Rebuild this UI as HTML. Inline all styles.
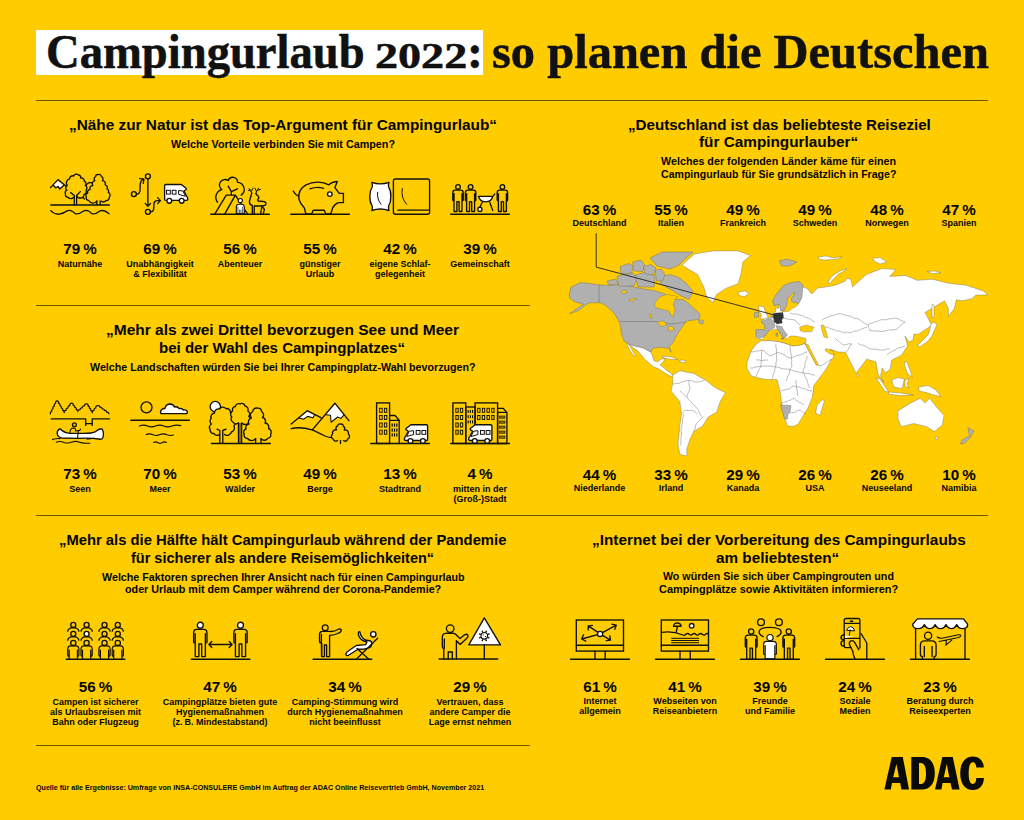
<!DOCTYPE html>
<html><head><meta charset="utf-8"><style>
html,body{margin:0;padding:0;}
body{width:1024px;height:820px;overflow:hidden;background:#FFCC00;position:relative;font-family:"Liberation Sans", sans-serif;color:#111;}
.t{position:absolute;text-align:center;font-weight:bold;white-space:nowrap;color:#050505;}
.ln{position:absolute;height:1px;background:#6b5700;}
#title{position:absolute;left:36px;top:30px;width:447px;height:45px;background:#fff;}
.tt{position:absolute;font-family:"Liberation Serif", serif;font-weight:bold;font-size:48px;line-height:48px;white-space:nowrap;color:#111;-webkit-text-stroke:0.5px #111;}
svg{position:absolute;left:0;top:0;}
#adac{position:absolute;left:884px;top:0px;font-family:"Liberation Sans", sans-serif;font-weight:bold;font-size:48px;line-height:48px;color:#111;transform-origin:0 0;}
</style></head><body>
<div id="title"></div>
<div class="tt" style="left:46px;top:28.00px;transform:scaleX(0.9713);transform-origin:0 0">Campingurlaub</div>
<div class="tt" style="left:375.3px;top:38.05px;font-size:36px;line-height:36px;transform:scaleX(1.2806);transform-origin:0 0">2022</div>
<div class="tt" style="left:467px;top:28.00px">:</div>
<div class="tt" style="left:492px;top:28.00px;transform:scaleX(1.0100);transform-origin:0 0">so planen die Deutschen</div>
<div class="t" style="left:20.00px;top:241.23px;width:120px;font-size:15.2px;line-height:16px;">79 %</div><div class="t" style="left:20.00px;top:258.68px;width:120px;font-size:9.0px;line-height:10.0px;">Naturnähe</div><div class="t" style="left:100.00px;top:241.23px;width:120px;font-size:15.2px;line-height:16px;">69 %</div><div class="t" style="left:100.00px;top:258.68px;width:120px;font-size:9.0px;line-height:10.0px;">Unabhängigkeit<br>&amp; Flexibilität</div><div class="t" style="left:180.00px;top:241.23px;width:120px;font-size:15.2px;line-height:16px;">56 %</div><div class="t" style="left:180.00px;top:258.68px;width:120px;font-size:9.0px;line-height:10.0px;">Abenteuer</div><div class="t" style="left:260.00px;top:241.23px;width:120px;font-size:15.2px;line-height:16px;">55 %</div><div class="t" style="left:260.00px;top:258.68px;width:120px;font-size:9.0px;line-height:10.0px;">günstiger<br>Urlaub</div><div class="t" style="left:340.00px;top:241.23px;width:120px;font-size:15.2px;line-height:16px;">42 %</div><div class="t" style="left:340.00px;top:258.68px;width:120px;font-size:9.0px;line-height:10.0px;">eigene Schlaf-<br>gelegenheit</div><div class="t" style="left:420.00px;top:241.23px;width:120px;font-size:15.2px;line-height:16px;">39 %</div><div class="t" style="left:420.00px;top:258.68px;width:120px;font-size:9.0px;line-height:10.0px;">Gemeinschaft</div><div class="t" style="left:20.00px;top:466.23px;width:120px;font-size:15.2px;line-height:16px;">73 %</div><div class="t" style="left:20.00px;top:483.58px;width:120px;font-size:9.0px;line-height:10.0px;">Seen</div><div class="t" style="left:100.00px;top:466.23px;width:120px;font-size:15.2px;line-height:16px;">70 %</div><div class="t" style="left:100.00px;top:483.58px;width:120px;font-size:9.0px;line-height:10.0px;">Meer</div><div class="t" style="left:180.00px;top:466.23px;width:120px;font-size:15.2px;line-height:16px;">53 %</div><div class="t" style="left:180.00px;top:483.58px;width:120px;font-size:9.0px;line-height:10.0px;">Wälder</div><div class="t" style="left:260.00px;top:466.23px;width:120px;font-size:15.2px;line-height:16px;">49 %</div><div class="t" style="left:260.00px;top:483.58px;width:120px;font-size:9.0px;line-height:10.0px;">Berge</div><div class="t" style="left:340.00px;top:466.23px;width:120px;font-size:15.2px;line-height:16px;">13 %</div><div class="t" style="left:340.00px;top:483.58px;width:120px;font-size:9.0px;line-height:10.0px;">Stadtrand</div><div class="t" style="left:420.00px;top:466.23px;width:120px;font-size:15.2px;line-height:16px;">4 %</div><div class="t" style="left:420.00px;top:483.58px;width:120px;font-size:9.0px;line-height:10.0px;">mitten in der<br>(Groß-)Stadt</div><div class="t" style="left:15.50px;top:679.33px;width:160px;font-size:15.2px;line-height:16px;">56 %</div><div class="t" style="left:15.50px;top:696.68px;width:160px;font-size:9.0px;line-height:10.0px;">Campen ist sicherer<br>als Urlaubsreisen mit<br>Bahn oder Flugzeug</div><div class="t" style="left:140.00px;top:679.33px;width:160px;font-size:15.2px;line-height:16px;">47 %</div><div class="t" style="left:140.00px;top:696.68px;width:160px;font-size:9.0px;line-height:10.0px;">Campingplätze bieten gute<br>Hygienemaßnahmen<br>(z. B. Mindestabstand)</div><div class="t" style="left:265.00px;top:679.33px;width:160px;font-size:15.2px;line-height:16px;">34 %</div><div class="t" style="left:265.00px;top:696.68px;width:160px;font-size:9.0px;line-height:10.0px;">Camping-Stimmung wird<br>durch Hygienemaßnahmen<br>nicht beeinflusst</div><div class="t" style="left:390.00px;top:679.33px;width:160px;font-size:15.2px;line-height:16px;">29 %</div><div class="t" style="left:390.00px;top:696.68px;width:160px;font-size:9.0px;line-height:10.0px;">Vertrauen, dass<br>andere Camper die<br>Lage ernst nehmen</div><div class="t" style="left:549.50px;top:201.53px;width:100px;font-size:15.2px;line-height:16px;">63 %</div><div class="t" style="left:549.50px;top:218.48px;width:100px;font-size:9.0px;line-height:10.0px;">Deutschland</div><div class="t" style="left:621.00px;top:201.53px;width:100px;font-size:15.2px;line-height:16px;">55 %</div><div class="t" style="left:621.00px;top:218.48px;width:100px;font-size:9.0px;line-height:10.0px;">Italien</div><div class="t" style="left:693.00px;top:201.53px;width:100px;font-size:15.2px;line-height:16px;">49 %</div><div class="t" style="left:693.00px;top:218.48px;width:100px;font-size:9.0px;line-height:10.0px;">Frankreich</div><div class="t" style="left:765.00px;top:201.53px;width:100px;font-size:15.2px;line-height:16px;">49 %</div><div class="t" style="left:765.00px;top:218.48px;width:100px;font-size:9.0px;line-height:10.0px;">Schweden</div><div class="t" style="left:837.00px;top:201.53px;width:100px;font-size:15.2px;line-height:16px;">48 %</div><div class="t" style="left:837.00px;top:218.48px;width:100px;font-size:9.0px;line-height:10.0px;">Norwegen</div><div class="t" style="left:909.00px;top:201.53px;width:100px;font-size:15.2px;line-height:16px;">47 %</div><div class="t" style="left:909.00px;top:218.48px;width:100px;font-size:9.0px;line-height:10.0px;">Spanien</div><div class="t" style="left:549.50px;top:466.53px;width:100px;font-size:15.2px;line-height:16px;">44 %</div><div class="t" style="left:549.50px;top:483.48px;width:100px;font-size:9.0px;line-height:10.0px;">Niederlande</div><div class="t" style="left:621.00px;top:466.53px;width:100px;font-size:15.2px;line-height:16px;">33 %</div><div class="t" style="left:621.00px;top:483.48px;width:100px;font-size:9.0px;line-height:10.0px;">Irland</div><div class="t" style="left:693.00px;top:466.53px;width:100px;font-size:15.2px;line-height:16px;">29 %</div><div class="t" style="left:693.00px;top:483.48px;width:100px;font-size:9.0px;line-height:10.0px;">Kanada</div><div class="t" style="left:765.00px;top:466.53px;width:100px;font-size:15.2px;line-height:16px;">26 %</div><div class="t" style="left:765.00px;top:483.48px;width:100px;font-size:9.0px;line-height:10.0px;">USA</div><div class="t" style="left:837.00px;top:466.53px;width:100px;font-size:15.2px;line-height:16px;">26 %</div><div class="t" style="left:837.00px;top:483.48px;width:100px;font-size:9.0px;line-height:10.0px;">Neuseeland</div><div class="t" style="left:909.00px;top:466.53px;width:100px;font-size:15.2px;line-height:16px;">10 %</div><div class="t" style="left:909.00px;top:483.48px;width:100px;font-size:9.0px;line-height:10.0px;">Namibia</div><div class="t" style="left:540.00px;top:679.33px;width:120px;font-size:15.2px;line-height:16px;">61 %</div><div class="t" style="left:540.00px;top:697.08px;width:120px;font-size:9.0px;line-height:9.6px;">Internet<br>allgemein</div><div class="t" style="left:625.00px;top:679.33px;width:120px;font-size:15.2px;line-height:16px;">41 %</div><div class="t" style="left:625.00px;top:697.08px;width:120px;font-size:9.0px;line-height:9.6px;">Webseiten von<br>Reiseanbietern</div><div class="t" style="left:710.00px;top:679.33px;width:120px;font-size:15.2px;line-height:16px;">39 %</div><div class="t" style="left:710.00px;top:697.08px;width:120px;font-size:9.0px;line-height:9.6px;">Freunde<br>und Familie</div><div class="t" style="left:795.00px;top:679.33px;width:120px;font-size:15.2px;line-height:16px;">24 %</div><div class="t" style="left:795.00px;top:697.08px;width:120px;font-size:9.0px;line-height:9.6px;">Soziale<br>Medien</div><div class="t" style="left:880.00px;top:679.33px;width:120px;font-size:15.2px;line-height:16px;">23 %</div><div class="t" style="left:880.00px;top:697.08px;width:120px;font-size:9.0px;line-height:9.6px;">Beratung durch<br>Reiseexperten</div><div class="ln" style="left:36px;top:99.5px;width:952px"></div><div class="ln" style="left:36px;top:304.5px;width:494px"></div><div class="ln" style="left:36px;top:514.5px;width:952px"></div><div class="ln" style="left:36px;top:744.5px;width:494px"></div><div class="t" style="left:69.00px;top:116.55px;text-align:left;font-size:15.3px;line-height:15.3px;transform:scaleX(1.0038);transform-origin:0 0">„Nähe zur Natur ist das Top-Argument für Campingurlaub“</div><div class="t" style="left:171.00px;top:138.90px;text-align:left;font-size:10.75px;line-height:10.75px;transform:scaleX(1.0017);transform-origin:0 0">Welche Vorteile verbinden Sie mit Campen?</div><div class="t" style="left:106.40px;top:321.95px;text-align:left;font-size:15.3px;line-height:15.3px;transform:scaleX(1.0126);transform-origin:0 0">„Mehr als zwei Drittel bevorzugen See und Meer</div><div class="t" style="left:159.00px;top:339.55px;text-align:left;font-size:15.3px;line-height:15.3px;transform:scaleX(0.9833);transform-origin:0 0">bei der Wahl des Campingplatzes“</div><div class="t" style="left:89.80px;top:361.60px;text-align:left;font-size:10.75px;line-height:10.75px;transform:scaleX(0.9929);transform-origin:0 0">Welche Landschaften würden Sie bei Ihrer Campingplatz-Wahl bevorzugen?</div><div class="t" style="left:59.40px;top:531.95px;text-align:left;font-size:15.3px;line-height:15.3px;transform:scaleX(0.9675);transform-origin:0 0">„Mehr als die Hälfte hält Campingurlaub während der Pandemie</div><div class="t" style="left:130.90px;top:549.55px;text-align:left;font-size:15.3px;line-height:15.3px;transform:scaleX(0.9482);transform-origin:0 0">für sicherer als andere Reisemöglichkeiten“</div><div class="t" style="left:102.00px;top:571.70px;text-align:left;font-size:10.75px;line-height:10.75px;transform:scaleX(0.9967);transform-origin:0 0">Welche Faktoren sprechen Ihrer Ansicht nach für einen Campingurlaub</div><div class="t" style="left:125.00px;top:583.90px;text-align:left;font-size:10.75px;line-height:10.75px;transform:scaleX(1.0006);transform-origin:0 0">oder Urlaub mit dem Camper während der Corona-Pandemie?</div><div class="t" style="left:627.60px;top:116.55px;text-align:left;font-size:15.3px;line-height:15.3px;transform:scaleX(0.9894);transform-origin:0 0">„Deutschland ist das beliebteste Reiseziel</div><div class="t" style="left:698.90px;top:134.15px;text-align:left;font-size:15.3px;line-height:15.3px;transform:scaleX(1.0017);transform-origin:0 0">für Campingurlauber“</div><div class="t" style="left:661.20px;top:156.00px;text-align:left;font-size:10.75px;line-height:10.75px;transform:scaleX(0.9993);transform-origin:0 0">Welches der folgenden Länder käme für einen</div><div class="t" style="left:661.20px;top:169.30px;text-align:left;font-size:10.75px;line-height:10.75px;transform:scaleX(0.9828);transform-origin:0 0">Campingurlaub für Sie grundsätzlich in Frage?</div><div class="t" style="left:591.80px;top:531.85px;text-align:left;font-size:15.3px;line-height:15.3px;transform:scaleX(1.0046);transform-origin:0 0">„Internet bei der Vorbereitung des Campingurlaubs</div><div class="t" style="left:716.40px;top:549.65px;text-align:left;font-size:15.3px;line-height:15.3px;transform:scaleX(0.9995);transform-origin:0 0">am beliebtesten“</div><div class="t" style="left:663.40px;top:571.30px;text-align:left;font-size:10.75px;line-height:10.75px;transform:scaleX(0.9921);transform-origin:0 0">Wo würden Sie sich über Campingrouten und</div><div class="t" style="left:659.00px;top:584.20px;text-align:left;font-size:10.75px;line-height:10.75px;transform:scaleX(1.0155);transform-origin:0 0">Campingplätze sowie Aktivitäten informieren?</div><div class="t" style="left:36.10px;top:783.91px;text-align:left;font-size:7.2px;line-height:7.2px;transform:scaleX(0.9898);transform-origin:0 0">Quelle für alle Ergebnisse: Umfrage von INSA-CONSULERE GmbH im Auftrag der ADAC Online Reisevertrieb GmbH, November 2021</div>
<svg width="1024" height="820" viewBox="0 0 1024 820"><path d="M 569.4 293.4 L 570.9 287.2 L 580.3 282.5 L 590.0 283.5 L 599.0 284.8 L 610.0 285.6 L 619.4 284.6 L 628.8 286.0 L 641.3 288.5 L 653.8 290.5 L 662.0 293.0 L 670.0 296.0 L 674.1 299.5 L 682.9 299.5 L 688.8 303.4 L 694.6 309.3 L 698.5 312.2 L 700.5 316.1 L 698.5 319.0 L 694.6 320.0 L 686.8 321.0 L 682.9 325.9 L 677.1 334.6 L 673.2 342.4 L 669.3 346.3 L 671.2 352.2 L 668.3 348.3 L 659.5 347.3 L 652.7 348.3 L 650.7 352.2 L 646.0 349.5 L 642.8 348.1 L 630.3 345.0 L 624.0 341.0 L 621.5 334.0 L 620.0 324.0 L 616.0 316.0 L 612.0 311.0 L 605.0 305.0 L 600.6 302.8 L 589.7 302.8 L 584.0 306.0 L 578.8 310.6 L 569.4 313.8 L 577.0 308.5 L 583.4 304.4 L 574.0 301.3 L 569.4 298.0 Z" fill="#b0b0b0" stroke="#5a5a5a" stroke-width="0.35" stroke-linejoin="round"/><path d="M 654.6 303.4 L 659.5 297.1 L 666.3 294.6 L 674.1 295.6 L 678.0 297.0 L 675.1 299.5 L 673.2 304.4 L 675.1 309.3 L 673.2 317.1 L 670.2 314.1 L 669.3 311.2 L 657.6 308.3 L 654.6 306.3 Z" fill="#FFCC00" stroke="#5a5a5a" stroke-width="0.3" stroke-linejoin="round"/><path d="M 698.5 319.5 L 703.4 320.5 L 703.0 324.0 L 699.0 323.5 Z" fill="#b0b0b0" stroke="#5a5a5a" stroke-width="0.35" stroke-linejoin="round"/><path d="M 660.0 283.5 L 663.0 276.0 L 670.0 274.5 L 678.0 277.0 L 686.0 283.0 L 693.0 291.0 L 689.0 299.5 L 681.0 296.0 L 674.0 291.5 Z" fill="#b0b0b0" stroke="#5a5a5a" stroke-width="0.35" stroke-linejoin="round"/><path d="M 650.0 258.0 L 662.0 252.0 L 693.0 252.0 L 686.0 258.0 L 679.0 265.0 L 670.0 269.0 L 657.0 266.0 Z" fill="#b0b0b0" stroke="#5a5a5a" stroke-width="0.35" stroke-linejoin="round"/><path d="M 617.0 276.0 L 633.0 273.0 L 637.0 279.0 L 634.0 286.0 L 619.0 286.0 Z" fill="#b0b0b0" stroke="#5a5a5a" stroke-width="0.35" stroke-linejoin="round"/><path d="M 635.0 275.0 L 646.0 272.0 L 655.0 276.0 L 654.0 287.0 L 638.0 287.0 Z" fill="#b0b0b0" stroke="#5a5a5a" stroke-width="0.35" stroke-linejoin="round"/><path d="M 620.0 266.5 L 629.0 263.5 L 633.0 266.0 L 632.0 273.0 L 621.0 274.0 Z" fill="#b0b0b0" stroke="#5a5a5a" stroke-width="0.35" stroke-linejoin="round"/><path d="M 632.5 262.0 L 641.0 260.0 L 645.0 265.0 L 643.0 271.5 L 634.0 271.0 Z" fill="#b0b0b0" stroke="#5a5a5a" stroke-width="0.35" stroke-linejoin="round"/><path d="M 643.5 266.5 L 651.0 264.5 L 656.0 268.0 L 653.5 275.0 L 645.5 274.0 Z" fill="#b0b0b0" stroke="#5a5a5a" stroke-width="0.35" stroke-linejoin="round"/><path d="M 655.0 270.5 L 661.0 269.0 L 665.0 274.0 L 662.5 281.0 L 656.5 281.0 Z" fill="#b0b0b0" stroke="#5a5a5a" stroke-width="0.35" stroke-linejoin="round"/><path d="M 607.0 281.0 L 616.0 279.0 L 618.0 284.0 L 609.0 285.0 Z" fill="#b0b0b0" stroke="#5a5a5a" stroke-width="0.35" stroke-linejoin="round"/><path d="M 681.9 265.0 L 694.4 254.0 L 713.1 250.9 L 738.1 250.9 L 750.6 255.6 L 742.8 261.9 L 741.3 272.8 L 738.1 283.8 L 725.6 288.4 L 716.3 294.7 L 713.1 302.5 L 706.9 297.8 L 703.8 286.9 L 697.5 274.4 L 686.6 268.1 Z" fill="#ffffff" stroke="#5a5a5a" stroke-width="0.35" stroke-linejoin="round"/><path d="M 738.5 292.0 L 745.0 291.0 L 749.0 293.5 L 744.5 296.5 L 739.0 295.5 Z" fill="#ffffff" stroke="#5a5a5a" stroke-width="0.35" stroke-linejoin="round"/><path d="M 628.8 345.0 L 630.3 345.0 L 642.8 348.1 L 646.0 349.5 L 650.7 352.2 L 652.2 355.0 L 653.8 360.6 L 657.0 362.0 L 661.6 359.0 L 664.5 358.2 L 663.6 362.0 L 660.0 364.6 L 666.3 370.0 L 670.0 372.5 L 672.7 375.2 L 671.0 376.5 L 665.0 373.0 L 658.0 368.5 L 653.8 366.9 L 644.4 359.0 L 638.0 351.0 L 633.0 347.5 Z" fill="#ffffff" stroke="#5a5a5a" stroke-width="0.35" stroke-linejoin="round"/><path d="M 627.0 343.5 L 629.0 344.5 L 632.0 350.0 L 635.8 355.8 L 634.0 356.0 L 629.0 349.0 Z" fill="#ffffff" stroke="#5a5a5a" stroke-width="0.35" stroke-linejoin="round"/><path d="M 662.0 356.0 L 672.0 357.0 L 678.0 359.5 L 670.0 359.2 L 663.0 357.6 Z" fill="#ffffff" stroke="#5a5a5a" stroke-width="0.35" stroke-linejoin="round"/><path d="M 680.0 360.0 L 686.0 360.5 L 685.0 362.5 L 680.0 362.0 Z" fill="#ffffff" stroke="#5a5a5a" stroke-width="0.35" stroke-linejoin="round"/><path d="M 672.7 375.2 L 679.8 370.8 L 693.8 373.4 L 706.1 380.4 L 714.9 387.5 L 725.5 392.7 L 720.2 401.5 L 716.7 412.1 L 707.9 417.3 L 702.6 426.1 L 693.8 431.4 L 690.3 438.4 L 686.8 449.0 L 686.8 456.0 L 679.8 454.3 L 678.0 443.7 L 680.0 425.0 L 681.5 413.8 L 679.8 401.5 L 671.0 391.0 L 672.7 384.0 Z" fill="#ffffff" stroke="#5a5a5a" stroke-width="0.35" stroke-linejoin="round"/><path d="M 756.1 338.0 L 756.1 329.6 L 765.0 329.5 L 764.6 325.4 L 761.0 321.7 L 765.0 318.5 L 771.0 317.0 L 773.2 313.0 L 775.5 311.5 L 776.0 307.5 L 778.5 308.5 L 779.3 304.0 L 774.4 305.9 L 772.6 301.0 L 777.4 295.5 L 783.0 290.0 L 794.0 289.5 L 800.0 289.0 L 804.0 287.0 L 807.8 289.0 L 811.7 294.0 L 817.6 288.0 L 825.4 287.1 L 835.2 285.2 L 845.0 281.3 L 846.9 278.3 L 850.8 279.3 L 852.7 287.1 L 856.6 283.2 L 866.4 274.4 L 882.0 268.6 L 895.7 269.5 L 889.8 276.4 L 905.5 275.4 L 917.2 280.3 L 932.8 279.3 L 948.4 283.2 L 966.0 285.2 L 983.6 291.0 L 987.5 295.0 L 975.8 295.0 L 971.9 298.8 L 962.1 300.8 L 956.3 299.8 L 954.3 308.6 L 948.4 316.4 L 948.4 308.6 L 944.5 300.8 L 934.8 306.6 L 925.0 312.5 L 928.9 320.0 L 931.7 325.4 L 918.2 334.3 L 914.0 334.0 L 913.0 340.0 L 909.0 342.0 L 905.0 336.0 L 907.6 345.9 L 901.2 355.4 L 891.7 360.1 L 890.1 369.6 L 885.4 372.8 L 882.2 368.0 L 880.6 376.0 L 883.8 382.3 L 878.0 374.0 L 875.9 361.7 L 866.6 359.2 L 856.0 373.3 L 845.5 352.2 L 838.0 352.0 L 830.0 349.0 L 834.0 354.5 L 833.2 358.0 L 822.0 367.5 L 817.3 364.0 L 808.6 350.4 L 805.0 343.4 L 795.0 344.0 L 780.0 342.0 L 762.9 339.9 Z" fill="#ffffff" stroke="#5a5a5a" stroke-width="0.35" stroke-linejoin="round"/><path d="M 762.9 339.9 L 770.0 340.5 L 778.7 341.6 L 786.0 343.5 L 792.7 346.0 L 800.0 345.0 L 805.0 343.4 L 808.6 350.4 L 816.0 364.5 L 821.0 366.0 L 831.4 359.2 L 828.0 366.0 L 824.4 371.5 L 818.0 380.0 L 813.8 385.6 L 812.1 397.9 L 808.0 408.0 L 803.3 415.5 L 798.0 424.3 L 793.0 426.5 L 787.5 426.0 L 784.5 418.0 L 782.2 408.4 L 780.4 392.6 L 776.9 379.4 L 768.0 379.5 L 761.1 378.6 L 753.0 376.5 L 750.5 375.0 L 747.0 368.0 L 747.0 362.7 L 750.5 352.2 L 755.0 345.5 L 759.0 342.0 Z" fill="#ffffff" stroke="#5a5a5a" stroke-width="0.35" stroke-linejoin="round"/><path d="M 822.5 399.6 L 824.4 401.0 L 820.0 415.5 L 815.6 413.0 L 817.0 405.0 Z" fill="#ffffff" stroke="#5a5a5a" stroke-width="0.35" stroke-linejoin="round"/><path d="M 762.0 339.5 L 764.6 336.3 L 767.0 333.0 L 769.5 330.5 L 774.4 329.5 L 777.4 329.0 L 781.0 333.5 L 785.0 337.2 L 787.0 339.0 L 790.0 336.0 L 795.0 336.0 L 800.0 337.0 L 806.0 338.5 L 806.0 343.0 L 800.0 345.0 L 792.7 346.0 L 786.0 343.5 L 778.7 341.6 L 770.0 340.5 L 763.0 341.0 Z" fill="#FFCC00" stroke="#5a5a5a" stroke-width="0.3" stroke-linejoin="round"/><path d="M 799.8 327.0 L 806.0 325.0 L 813.8 327.0 L 812.0 331.5 L 804.0 332.0 L 800.0 330.5 Z" fill="#FFCC00" stroke="#5a5a5a" stroke-width="0.3" stroke-linejoin="round"/><path d="M 821.0 325.0 L 824.0 325.5 L 826.0 331.0 L 827.9 338.1 L 824.0 337.0 L 822.0 331.0 Z" fill="#FFCC00" stroke="#5a5a5a" stroke-width="0.3" stroke-linejoin="round"/><path d="M 805.0 344.0 L 808.0 344.5 L 818.0 364.0 L 816.5 365.5 Z" fill="#FFCC00" stroke="#5a5a5a" stroke-width="0.3" stroke-linejoin="round"/><path d="M 826.0 348.5 L 833.0 351.0 L 834.0 355.0 L 830.0 354.0 L 825.0 350.5 Z" fill="#FFCC00" stroke="#5a5a5a" stroke-width="0.3" stroke-linejoin="round"/><path d="M 758.5 306.0 L 763.5 306.5 L 765.5 312.0 L 768.0 316.5 L 766.0 318.8 L 760.0 319.0 L 761.5 315.0 L 759.0 311.0 Z" fill="#ffffff" stroke="#5a5a5a" stroke-width="0.35" stroke-linejoin="round"/><path d="M 772.6 301.0 L 776.0 294.5 L 783.5 285.5 L 791.0 282.5 L 799.2 281.6 L 803.0 285.0 L 802.5 291.0 L 801.8 298.0 L 798.8 303.4 L 794.0 304.5 L 790.0 306.5 L 786.6 307.5 L 784.1 310.7 L 780.5 310.6 L 779.3 304.0 L 774.4 305.9 Z" fill="#b0b0b0" stroke="#5a5a5a" stroke-width="0.35" stroke-linejoin="round"/><path d="M 787.8 298.5 L 792.7 293.0 L 795.1 293.0 L 792.0 297.0 L 790.8 300.0 L 792.7 302.2 L 798.8 303.4 L 796.3 306.5 L 792.7 308.3 L 789.0 311.3 L 782.9 311.8 L 780.5 310.6 L 784.1 310.7 L 786.6 305.9 Z" fill="#FFCC00" stroke="#5a5a5a" stroke-width="0.3" stroke-linejoin="round"/><path d="M 779.0 261.0 L 787.0 259.0 L 797.0 262.0 L 790.0 266.0 L 782.0 266.0 Z" fill="#b0b0b0" stroke="#5a5a5a" stroke-width="0.35" stroke-linejoin="round"/><path d="M 754.3 312.6 L 758.5 312.0 L 758.5 317.0 L 754.5 317.4 Z" fill="#b0b0b0" stroke="#5a5a5a" stroke-width="0.35" stroke-linejoin="round"/><path d="M 761.0 321.7 L 770.1 318.0 L 774.4 321.7 L 774.4 327.8 L 770.7 329.6 L 765.2 329.0 L 764.6 325.4 Z" fill="#b0b0b0" stroke="#5a5a5a" stroke-width="0.35" stroke-linejoin="round"/><path d="M 756.1 329.6 L 769.5 330.2 L 764.6 336.3 L 759.1 338.2 L 756.1 336.3 Z" fill="#b0b0b0" stroke="#5a5a5a" stroke-width="0.35" stroke-linejoin="round"/><path d="M 775.6 325.4 L 781.7 326.6 L 785.4 332.7 L 787.5 334.5 L 786.6 336.3 L 782.9 337.6 L 777.4 329.0 Z" fill="#b0b0b0" stroke="#5a5a5a" stroke-width="0.35" stroke-linejoin="round"/><path d="M 776.0 333.0 L 777.6 333.0 L 777.6 336.2 L 776.0 336.2 Z" fill="#b0b0b0" stroke="#5a5a5a" stroke-width="0.35" stroke-linejoin="round"/><path d="M 781.0 338.0 L 784.2 338.0 L 782.2 339.8 Z" fill="#b0b0b0" stroke="#5a5a5a" stroke-width="0.35" stroke-linejoin="round"/><path d="M 771.0 316.5 L 773.5 314.5 L 774.0 317.5 L 771.5 318.0 Z" fill="#b0b0b0" stroke="#5a5a5a" stroke-width="0.35" stroke-linejoin="round"/><path d="M 773.8 313.2 L 782.9 312.6 L 783.5 317.4 L 781.7 319.9 L 782.3 322.9 L 776.8 324.1 L 774.4 321.7 L 773.2 316.8 Z" fill="#333333" stroke="#333333" stroke-width="0.35" stroke-linejoin="round"/><path d="M 780.4 404.9 L 791.0 405.5 L 790.0 412.0 L 788.0 413.0 L 787.5 419.0 L 784.5 419.0 L 782.5 412.0 Z" fill="#b0b0b0" stroke="#5a5a5a" stroke-width="0.35" stroke-linejoin="round"/><path d="M 875.9 377.6 L 880.0 379.0 L 888.5 391.8 L 885.0 391.5 Z" fill="#ffffff" stroke="#5a5a5a" stroke-width="0.35" stroke-linejoin="round"/><path d="M 888.5 392.0 L 900.0 393.0 L 913.9 395.0 L 900.0 395.6 L 889.0 394.2 Z" fill="#ffffff" stroke="#5a5a5a" stroke-width="0.35" stroke-linejoin="round"/><path d="M 891.7 380.0 L 898.0 377.6 L 904.4 379.0 L 902.0 388.7 L 894.0 387.0 Z" fill="#ffffff" stroke="#5a5a5a" stroke-width="0.35" stroke-linejoin="round"/><path d="M 905.0 380.0 L 909.0 378.5 L 907.0 384.0 L 909.0 388.0 L 905.0 386.0 Z" fill="#ffffff" stroke="#5a5a5a" stroke-width="0.35" stroke-linejoin="round"/><path d="M 904.4 361.7 L 907.0 362.0 L 910.0 370.0 L 912.3 377.6 L 908.0 374.0 L 905.0 367.0 Z" fill="#ffffff" stroke="#5a5a5a" stroke-width="0.35" stroke-linejoin="round"/><path d="M 918.7 387.0 L 928.0 385.5 L 936.0 390.0 L 940.9 396.6 L 934.0 395.0 L 926.0 392.5 L 919.0 391.0 Z" fill="#ffffff" stroke="#5a5a5a" stroke-width="0.35" stroke-linejoin="round"/><path d="M 934.0 322.0 L 937.0 325.0 L 934.0 331.0 L 932.0 336.0 L 927.0 342.0 L 920.0 346.5 L 917.0 346.0 L 922.0 341.0 L 928.0 335.0 L 930.0 329.0 L 931.0 324.0 Z" fill="#ffffff" stroke="#5a5a5a" stroke-width="0.35" stroke-linejoin="round"/><path d="M 932.0 304.0 L 934.0 305.0 L 934.0 316.0 L 932.0 318.0 Z" fill="#ffffff" stroke="#5a5a5a" stroke-width="0.35" stroke-linejoin="round"/><path d="M 857.5 374.0 L 859.0 375.0 L 858.0 377.2 L 857.0 376.0 Z" fill="#ffffff" stroke="#5a5a5a" stroke-width="0.35" stroke-linejoin="round"/><path d="M 898.0 410.9 L 910.7 402.9 L 920.3 398.2 L 925.0 403.0 L 929.8 398.2 L 934.5 404.5 L 944.0 415.6 L 942.4 425.1 L 934.5 431.5 L 926.6 426.7 L 913.9 423.5 L 901.2 426.7 L 898.0 418.8 Z" fill="#ffffff" stroke="#5a5a5a" stroke-width="0.35" stroke-linejoin="round"/><path d="M 935.0 437.0 L 938.0 437.0 L 937.0 439.5 L 935.5 439.5 Z" fill="#ffffff" stroke="#5a5a5a" stroke-width="0.35" stroke-linejoin="round"/><path d="M 967.8 427.5 L 970.0 429.0 L 974.2 431.0 L 971.0 436.2 L 969.0 434.0 Z" fill="#b0b0b0" stroke="#5a5a5a" stroke-width="0.35" stroke-linejoin="round"/><path d="M 969.0 436.0 L 971.0 437.0 L 964.0 443.5 L 960.5 444.0 L 962.0 440.0 Z" fill="#b0b0b0" stroke="#5a5a5a" stroke-width="0.35" stroke-linejoin="round"/><path d="M 828.0 282.0 L 832.0 276.0 L 840.0 271.0 L 847.0 268.6 L 845.0 270.5 L 838.0 274.5 L 833.5 279.0 L 830.0 283.5 Z" fill="#ffffff" stroke="#5a5a5a" stroke-width="0.35" stroke-linejoin="round"/><path d="M 818.0 257.0 L 826.0 256.0 L 834.0 258.0 L 842.0 256.5 L 838.0 259.0 L 826.0 260.0 L 820.0 259.5 Z" fill="#ffffff" stroke="#5a5a5a" stroke-width="0.35" stroke-linejoin="round"/><path d="M 873.0 258.0 L 880.0 257.5 L 887.0 262.0 L 880.0 264.0 L 874.0 261.0 Z" fill="#ffffff" stroke="#5a5a5a" stroke-width="0.35" stroke-linejoin="round"/><path d="M 927.0 271.5 L 935.0 271.0 L 941.0 273.0 L 932.0 273.5 Z" fill="#ffffff" stroke="#5a5a5a" stroke-width="0.35" stroke-linejoin="round"/><path d="M 599.0 284.8 L 599.0 287.4 L 599.0 289.9 L 599.0 292.5 L 599.0 295.1 L 599.0 297.7 L 599.0 300.2 L 599.0 302.8" fill="none" stroke="#5a5a5a" stroke-width="0.4" stroke-linejoin="round"/><path d="M 620.0 321.5 L 622.7 321.5 L 625.3 321.5 L 628.0 321.5 L 630.6 321.5 L 633.3 321.5 L 636.0 321.5 L 638.6 321.5 L 641.3 321.5 L 644.0 321.5 L 646.6 321.5 L 649.3 321.5 L 651.9 321.5 L 654.6 321.5 L 657.1 322.0 L 659.5 322.5 L 662.0 323.0 L 664.5 323.2 L 667.0 323.5 L 669.5 323.8 L 672.0 324.0 L 674.8 323.6 L 677.6 323.2 L 680.4 322.8 L 683.2 322.4 L 686.0 322.0" fill="none" stroke="#5a5a5a" stroke-width="0.4" stroke-linejoin="round"/><path d="M 657.0 322.0 L 664.0 321.0 L 667.0 325.0 L 661.0 326.5 Z" fill="#FFCC00" stroke="#5a5a5a" stroke-width="0.3" stroke-linejoin="round"/><path d="M 621.0 291.0 L 626.0 290.0 L 627.0 292.5 L 622.5 293.5 Z" fill="#FFCC00" stroke="#5a5a5a" stroke-width="0.3" stroke-linejoin="round"/><path d="M 628.8 300.5 L 634.0 298.0 L 636.6 299.0 L 631.0 301.5 Z" fill="#FFCC00" stroke="#5a5a5a" stroke-width="0.3" stroke-linejoin="round"/><path d="M 649.5 313.8 L 651.2 314.0 L 652.0 318.4 L 650.3 318.0 Z" fill="#FFCC00" stroke="#5a5a5a" stroke-width="0.3" stroke-linejoin="round"/><path d="M 668.0 327.0 L 672.0 326.0 L 674.5 330.0 L 669.0 331.0 Z" fill="#FFCC00" stroke="#5a5a5a" stroke-width="0.3" stroke-linejoin="round"/><path d="M 822.0 320.0 L 824.2 318.7 L 826.8 317.5 L 830.0 316.0 L 832.8 315.5 L 835.5 314.5 L 837.7 314.2 L 840.0 313.5 L 842.6 314.1 L 845.4 315.3 L 847.5 315.6 L 850.0 316.0 L 852.0 317.2 L 855.2 318.6 L 857.9 318.7 L 860.0 320.0 L 862.5 321.9 L 864.8 323.3 L 868.0 325.0 L 870.0 323.5 L 872.3 323.3 L 874.8 321.7 L 877.5 321.4 L 880.0 320.0 L 882.0 319.6 L 885.1 319.8 L 887.9 319.4 L 889.7 318.6 L 892.3 318.8 L 895.0 318.0 L 898.0 318.6 L 899.6 319.7 L 902.2 321.0 L 905.0 322.0 L 903.1 323.5 L 900.4 325.4 L 898.8 327.3 L 897.0 329.0 L 894.5 329.7 L 891.0 330.1 L 888.2 330.0 L 885.0 331.0 L 883.0 331.3 L 880.4 331.4 L 877.4 330.9 L 874.5 331.2 L 872.0 330.5 L 870.0 331.0 L 868.7 327.6 L 868.0 325.0" fill="none" stroke="#5a5a5a" stroke-width="0.4" stroke-linejoin="round"/><path d="M 825.0 327.0 L 827.3 327.2 L 829.4 328.1 L 832.0 329.1 L 835.0 330.0 L 836.9 331.2 L 840.1 331.1 L 842.2 332.1 L 845.0 333.0 L 847.4 332.1 L 850.6 332.8 L 852.8 331.8 L 854.9 330.9 L 858.0 331.0 L 860.8 329.4 L 864.4 327.9 L 867.0 327.0" fill="none" stroke="#5a5a5a" stroke-width="0.4" stroke-linejoin="round"/><path d="M 858.0 343.0 L 859.9 344.8 L 863.0 345.1 L 865.6 346.2 L 868.0 348.0 L 871.0 349.1 L 874.4 349.2 L 876.7 349.3 L 880.0 350.0 L 882.1 350.1 L 885.0 349.8 L 887.3 348.9 L 890.0 349.0" fill="none" stroke="#5a5a5a" stroke-width="0.4" stroke-linejoin="round"/><path d="M 835.0 338.0 L 837.4 340.3 L 839.4 341.9 L 841.4 343.5 L 843.0 345.0 L 845.7 344.7 L 848.8 343.8 L 852.0 344.0 L 849.9 345.7 L 848.7 348.2 L 848.0 349.9 L 846.0 352.0" fill="none" stroke="#5a5a5a" stroke-width="0.4" stroke-linejoin="round"/><path d="M 790.0 313.0 L 793.0 314.1 L 795.5 313.8 L 797.2 314.2 L 800.0 315.0 L 802.3 315.6 L 805.5 317.5 L 808.0 318.0 L 810.7 319.3 L 812.9 321.0 L 815.0 322.0" fill="none" stroke="#5a5a5a" stroke-width="0.4" stroke-linejoin="round"/><path d="M 783.0 318.0 L 785.5 318.7 L 789.5 319.3 L 792.3 319.5 L 795.0 320.0 L 797.1 322.8 L 800.0 325.0" fill="none" stroke="#5a5a5a" stroke-width="0.4" stroke-linejoin="round"/><path d="M 750.0 352.0 L 752.8 351.9 L 756.6 350.9 L 758.9 351.0 L 762.0 350.0 L 764.3 351.1 L 765.6 352.6 L 768.5 354.9 L 770.0 356.0 L 772.2 355.1 L 775.9 353.5 L 778.0 352.0 L 780.2 353.3 L 782.4 353.8 L 785.8 355.8 L 787.6 357.3 L 790.0 358.0 L 792.4 357.7 L 795.4 356.2 L 797.2 355.5 L 800.0 355.0 L 802.0 354.1 L 804.4 352.9 L 807.0 352.0" fill="none" stroke="#5a5a5a" stroke-width="0.4" stroke-linejoin="round"/><path d="M 762.0 350.0 L 761.4 353.2 L 761.5 355.3 L 761.6 358.5 L 761.2 361.2 L 761.2 363.4 L 761.0 366.0 L 759.8 368.2 L 758.4 371.1 L 756.7 374.6 L 756.0 377.0" fill="none" stroke="#5a5a5a" stroke-width="0.4" stroke-linejoin="round"/><path d="M 776.0 344.0 L 775.8 346.6 L 776.6 349.4 L 776.3 352.0 L 776.7 355.0 L 776.4 357.4 L 777.0 360.0 L 776.0 362.4 L 775.9 365.4 L 774.9 368.5 L 774.6 370.8 L 773.6 373.6 L 772.7 376.5 L 772.0 379.0" fill="none" stroke="#5a5a5a" stroke-width="0.4" stroke-linejoin="round"/><path d="M 790.0 346.0 L 790.2 348.5 L 790.5 351.5 L 791.0 354.0 L 791.5 355.7 L 791.3 359.0 L 791.9 360.6 L 791.3 363.4 L 792.0 366.0 L 790.5 368.2 L 789.5 371.2 L 789.3 374.0 L 787.6 376.3 L 787.2 378.1 L 786.0 381.0" fill="none" stroke="#5a5a5a" stroke-width="0.4" stroke-linejoin="round"/><path d="M 807.0 356.0 L 806.8 359.2 L 805.3 361.9 L 804.9 364.0 L 804.9 367.1 L 803.3 369.3 L 803.0 372.0 L 804.2 374.5 L 805.0 377.1 L 806.8 379.4 L 807.7 382.6 L 808.3 385.1 L 810.0 388.0" fill="none" stroke="#5a5a5a" stroke-width="0.4" stroke-linejoin="round"/><path d="M 781.0 391.0 L 783.9 390.0 L 786.1 389.6 L 789.7 388.6 L 791.7 386.7 L 795.0 386.0 L 796.9 387.0 L 799.6 387.0 L 802.2 388.6 L 805.1 388.6 L 806.7 390.1 L 809.7 390.5 L 812.0 391.0" fill="none" stroke="#5a5a5a" stroke-width="0.4" stroke-linejoin="round"/><path d="M 781.0 404.0 L 783.1 402.3 L 786.4 401.5 L 788.3 400.9 L 791.6 399.6 L 794.0 398.0 L 796.0 400.2 L 798.5 401.9 L 801.4 403.1 L 804.0 405.0" fill="none" stroke="#5a5a5a" stroke-width="0.4" stroke-linejoin="round"/><path d="M 750.0 368.0 L 752.6 368.2 L 754.9 367.0 L 757.7 366.8 L 759.8 366.5 L 762.3 366.2 L 765.2 366.1 L 768.0 366.0 L 771.1 366.2 L 773.5 366.6 L 776.1 366.9 L 778.7 367.4 L 782.0 368.6 L 784.1 369.0 L 787.8 369.0 L 790.0 370.0 L 792.9 370.4 L 795.0 371.4 L 797.4 371.5 L 800.2 372.6 L 802.3 372.9 L 805.2 373.2 L 807.4 373.3 L 809.5 373.6 L 812.0 374.8 L 815.0 375.0" fill="none" stroke="#5a5a5a" stroke-width="0.4" stroke-linejoin="round"/><path d="M 788.0 414.0 L 790.1 412.8 L 792.3 412.8 L 795.6 411.8 L 797.3 410.5 L 800.0 410.0 L 802.8 412.0 L 806.0 414.0" fill="none" stroke="#5a5a5a" stroke-width="0.4" stroke-linejoin="round"/><path d="M 756.0 360.0 L 758.6 359.9 L 761.7 360.6 L 765.6 360.1 L 768.0 360.0" fill="none" stroke="#5a5a5a" stroke-width="0.4" stroke-linejoin="round"/><path d="M 796.0 380.0 L 796.0 383.2 L 796.4 385.2 L 796.4 387.9 L 797.3 390.7 L 797.3 393.3 L 798.0 396.0" fill="none" stroke="#5a5a5a" stroke-width="0.4" stroke-linejoin="round"/><path d="M 887.0 355.0 L 889.1 353.1 L 891.8 351.5 L 895.0 350.0 L 897.0 348.4 L 899.8 347.7 L 902.6 347.0 L 905.0 346.0" fill="none" stroke="#5a5a5a" stroke-width="0.4" stroke-linejoin="round"/><path d="M 672.7 384.0 L 675.9 383.6 L 678.8 383.3 L 681.5 382.2 L 684.9 381.1 L 688.6 380.4 L 692.7 380.9 L 695.6 382.2 L 698.8 381.8 L 700.9 381.4 L 704.4 380.4" fill="none" stroke="#5a5a5a" stroke-width="0.4" stroke-linejoin="round"/><path d="M 679.8 391.0 L 682.6 393.2 L 684.7 395.4 L 686.8 397.1 L 688.1 399.0 L 690.3 401.3 L 692.4 403.2 L 693.9 405.2 L 695.8 406.9 L 697.3 408.6 L 698.3 410.2 L 699.5 412.8 L 700.8 415.5 L 702.6 417.3 L 700.0 420.1 L 697.3 422.6" fill="none" stroke="#5a5a5a" stroke-width="0.4" stroke-linejoin="round"/><path d="M 681.5 413.8 L 685.0 410.3 L 688.7 410.5 L 692.0 410.3 L 694.6 411.5 L 697.3 413.8" fill="none" stroke="#5a5a5a" stroke-width="0.4" stroke-linejoin="round"/><path d="M 683.3 413.8 L 683.3 416.9 L 682.6 419.5 L 682.4 421.7 L 682.1 424.8 L 681.5 427.9 L 680.9 430.1 L 681.5 432.6 L 681.4 436.0 L 681.0 437.8 L 680.8 440.7 L 681.0 443.1 L 680.6 445.5" fill="none" stroke="#5a5a5a" stroke-width="0.4" stroke-linejoin="round"/><path d="M 688.6 380.4 L 689.2 382.4 L 689.1 385.2 L 690.0 388.0 L 689.2 390.8 L 687.9 393.5 L 686.8 397.1" fill="none" stroke="#5a5a5a" stroke-width="0.4" stroke-linejoin="round"/><path d="M 697.3 422.6 L 695.6 425.3 L 695.2 428.7 L 693.8 431.4" fill="none" stroke="#5a5a5a" stroke-width="0.4" stroke-linejoin="round"/><path d="M 596.2 233.4 L 596.2 267.1 L 775 315.2" fill="none" stroke="#222" stroke-width="0.9"/><path d="M 50.5 187.6 L 58 179.6 L 66.3 186.6" fill="none" stroke="#111" stroke-width="1.35" stroke-linecap="round" stroke-linejoin="round" /><path d="M 53.8 185.3 L 58 180.9 L 63.5 185.4 L 59.8 188.6 L 58.2 186.6 L 55.6 187.5 Z" fill="#fff" stroke="none"/><path d="M 53.6 185.5 L 55.6 187.8 L 58.1 186.5 L 59.8 189 L 63.6 185.6" fill="none" stroke="#111" stroke-width="1.35" stroke-linecap="round" stroke-linejoin="round" /><path d="M 84.50 199.00 A 7.23 7.23 0 0 1 85.80 186.60 A 4.55 4.55 0 0 1 93.00 183.50 A 4.04 4.04 0 0 1 95.50 190.00 " fill="none" stroke="#111" stroke-width="1.35" stroke-linecap="round" stroke-linejoin="round" /><path d="M 73.40 197.30 A 3.12 3.12 0 0 1 68.20 197.30 A 2.70 2.70 0 0 1 65.50 193.70 A 2.21 2.21 0 0 1 66.90 190.30 A 2.89 2.89 0 0 1 67.20 185.50 A 4.21 4.21 0 0 1 69.60 178.90 A 3.01 3.01 0 0 1 73.70 176.00 A 2.94 2.94 0 0 1 78.50 175.00 A 2.16 2.16 0 0 1 80.50 178.00 A 3.06 3.06 0 0 1 84.30 181.40 A 2.53 2.53 0 0 1 85.30 185.50 A 2.91 2.91 0 0 1 86.00 190.30 A 2.74 2.74 0 0 1 84.00 194.40 A 3.20 3.20 0 0 1 79.90 197.80 A 1.88 1.88 0 0 1 77.20 196.20 " fill="#FFCC00" stroke="#111" stroke-width="1.35" stroke-linecap="round" stroke-linejoin="round" /><path d="M 74.3 204.6 L 74.3 195.5 L 70.6 192.6 M 76.6 204.6 L 76.6 195.5 L 80.3 191.6" fill="none" stroke="#111" stroke-width="1.35" stroke-linecap="round" stroke-linejoin="round" /><path d="M 97.00 201.20 A 5.00 5.00 0 0 1 88.70 200.50 A 2.46 2.46 0 0 1 86.40 197.10 A 2.58 2.58 0 0 1 87.70 193.00 A 2.50 2.50 0 0 1 90.10 189.60 A 2.95 2.95 0 0 1 92.80 185.50 A 3.14 3.14 0 0 1 94.90 180.70 A 2.50 2.50 0 0 1 95.60 176.60 A 2.02 2.02 0 0 1 98.30 174.60 A 2.21 2.21 0 0 1 101.40 176.60 A 2.53 2.53 0 0 1 102.40 180.70 A 2.98 2.98 0 0 1 105.20 184.80 A 2.66 2.66 0 0 1 106.90 188.90 A 2.18 2.18 0 0 1 108.20 192.30 A 2.95 2.95 0 0 1 109.30 197.10 A 2.93 2.93 0 0 1 105.80 200.50 A 2.50 2.50 0 0 1 101.70 201.20 " fill="#FFCC00" stroke="#111" stroke-width="1.35" stroke-linecap="round" stroke-linejoin="round" /><path d="M 96.8 204.6 L 96.8 201 M 100.2 204.6 L 100.2 201" fill="none" stroke="#111" stroke-width="1.35" stroke-linecap="round" stroke-linejoin="round" /><line x1="50.8" y1="204.9" x2="109.3" y2="204.9" stroke="#111" stroke-width="1.5" stroke-linecap="round"/><path d="M 50.6 210.6 Q 54.8 214.6 59 214.2 Q 63 213.8 67 210.9 Q 71 208.8 75.5 213.9 Q 79.6 214.4 84 210.8 Q 88 209 92 213.9 Q 96 214.4 100.2 210.8 Q 104.5 209.5 109 213.8" fill="none" stroke="#111" stroke-width="1.3" stroke-linecap="round" stroke-linejoin="round" /><circle cx="147.9" cy="176.3" r="2.5" fill="none" stroke="#111" stroke-width="1.35"/><path d="M 147.9 178.8 L 147.9 206.2 M 145.2 203.4 L 147.9 206.3 L 150.6 203.4" fill="none" stroke="#111" stroke-width="1.35" stroke-linecap="round" stroke-linejoin="round" /><circle cx="147.9" cy="211.8" r="2.5" fill="none" stroke="#111" stroke-width="1.35"/><circle cx="133.9" cy="194.1" r="2.5" fill="none" stroke="#111" stroke-width="1.35"/><path d="M 136.4 194.1 Q 139.8 194.3 140 190.2 L 140.2 184.2 Q 140.6 180.4 143.6 179 M 139.6 178.6 L 143.9 178.9 L 143.3 183.4" fill="none" stroke="#111" stroke-width="1.35" stroke-linecap="round" stroke-linejoin="round" /><path d="M 150.4 211.8 Q 153.6 212 153.8 208 L 154 203.4 Q 154.3 200.6 157.6 200.6 L 160.3 200.6 M 157.6 197.6 L 160.5 200.6 L 157.6 203.6" fill="none" stroke="#111" stroke-width="1.35" stroke-linecap="round" stroke-linejoin="round" /><g transform="translate(164.3,184.5) scale(1.0)"><path d="M 0.3 1.2 Q 0.3 0 1.5 0 L 17 0 L 21.8 3.8 Q 22.4 4.6 21.6 5.2 L 19.6 6.5 L 23.4 13.5 Q 24 15.8 22 15.8 L 1.5 15.8 Q 0.3 15.8 0.3 14.6 Z" fill="#fff" stroke="#111" stroke-width="1.350" stroke-linejoin="round"/><rect x="2.2" y="5.8" width="3.8" height="3.8" fill="none" stroke="#111" stroke-width="1.000"/><rect x="7.9" y="5.8" width="3.8" height="3.8" fill="none" stroke="#111" stroke-width="1.000"/><path d="M 14.3 6 L 18.6 6.5 L 21.2 11.8 L 14.3 9.8 Z" fill="none" stroke="#111" stroke-width="1.000" stroke-linejoin="round"/><circle cx="5" cy="16.3" r="2.4" fill="#fff" stroke="#111" stroke-width="1.350"/><circle cx="17.4" cy="16.3" r="2.4" fill="#fff" stroke="#111" stroke-width="1.350"/></g><path d="M 217.6 202.3 A 8 8 0 0 1 221.8 189.6 A 5.5 5.5 0 0 1 228.2 180.5 A 4.8 4.8 0 0 1 237.5 182.4 A 7 7 0 0 1 241.2 195.1" fill="none" stroke="#111" stroke-width="1.35" stroke-linecap="round" stroke-linejoin="round" /><path d="M 228.2 186.2 L 231.3 191.7 L 237.5 188.9 M 231.3 191.7 L 231.3 195.2" fill="none" stroke="#111" stroke-width="1.35" stroke-linecap="round" stroke-linejoin="round" /><path d="M 214.9 213.9 L 226.2 195.1 L 235.4 195.1 L 224.8 213.9 M 235.4 195.1 L 247.4 213.9" fill="#FFCC00" stroke="#111" stroke-width="1.35" stroke-linecap="round" stroke-linejoin="round" /><circle cx="240.3" cy="200.6" r="2.1" fill="#fff" stroke="#111" stroke-width="1.1"/><path d="M 236.3 213.9 L 236.3 207.2 Q 236.3 204.3 239 204.3 L 241.6 204.3 Q 244.3 204.3 244.3 207.2 L 244.3 213.9 Z" fill="#fff" stroke="#111" stroke-width="1.1" stroke-linecap="round" stroke-linejoin="round" /><path d="M 237.9 207 L 237.9 213.9 M 242.7 207 L 242.7 213.9 M 239.6 210 L 239.6 213.9 M 241 210 L 241 213.9" fill="none" stroke="#111" stroke-width="0.7" stroke-linecap="round" stroke-linejoin="round" /><path d="M 252.3 213.9 L 252.3 205.5 Q 249 204.5 249.5 201 L 251.8 193 M 254.2 213.9 L 254.2 206 L 262 206 L 260.6 213.9 M 262 206 L 264.4 209.5 L 263.2 213.9 M 262.1 206 Q 266.8 205.5 265.7 202.6 Q 264.8 201 259.5 201.3 Q 256.2 200.8 258.5 198.5 Q 259.6 197.6 257.5 195.5 L 255.8 193.5" fill="none" stroke="#111" stroke-width="1.35" stroke-linecap="round" stroke-linejoin="round" /><path d="M 251.8 193 Q 250.5 191 249 188.5 M 251.4 191.2 L 253 188 M 250.3 190 L 248.4 190.5 M 255.8 193.5 Q 256.5 191 258.5 188.2 M 256.4 191.5 L 255 188.2 M 257.4 190.2 L 260.4 189.5" fill="none" stroke="#111" stroke-width="1.0" stroke-linecap="round" stroke-linejoin="round" /><line x1="210.8" y1="214.2" x2="269.3" y2="214.2" stroke="#111" stroke-width="1.5" stroke-linecap="round"/><path d="M 293.2 191 Q 295 194.6 298.7 196.1 M 299 199.5 Q 297.5 189.5 306 184.8 Q 312 182 318 182.2 Q 324.5 182.4 328.7 184.8 Q 332.5 181.6 337.3 181.5 L 334.9 187.6 L 339.3 193.3 L 343.4 193.3 L 343.4 202.6 L 338.3 202.6 Q 334 204.5 332.6 208 L 330.8 213.9 L 325.8 213.9 L 324.2 210.2 L 313.2 210.2 L 311.6 213.9 L 305.8 213.9 L 304.4 208 Q 300.2 203.6 299 199.5 Z" fill="#FFCC00" stroke="#111" stroke-width="1.35" stroke-linecap="round" stroke-linejoin="round" /><path d="M 310 188.9 Q 316.5 186.3 323.6 188.3" fill="none" stroke="#111" stroke-width="1.35" stroke-linecap="round" stroke-linejoin="round" /><circle cx="329.8" cy="194.1" r="2.3" fill="#fff" stroke="#111" stroke-width="1.35"/><line x1="290.8" y1="214.2" x2="349.3" y2="214.2" stroke="#111" stroke-width="1.5" stroke-linecap="round"/><path d="M 371.9 182.4 Q 376 184 380.4 183.9 Q 385 183.9 388.9 182.4 Q 388.2 185 388.6 187 Q 391.2 191 390.8 196.4 Q 391 202 388.6 206 Q 388.2 208 388.9 210.5 Q 384.6 209 380.4 209 Q 376 209 371.9 210.5 Q 372.6 208 372.2 206 Q 369.6 202 369.8 196.4 Q 369.6 191 372.2 187 Q 372.6 185 371.9 182.4 Z" fill="#fff" stroke="#111" stroke-width="1.35" stroke-linecap="round" stroke-linejoin="round" /><path d="M 377.6 192.3 Q 376.8 199.5 381.1 204.3" fill="none" stroke="#111" stroke-width="1.0" stroke-linecap="round" stroke-linejoin="round" /><rect x="393.4" y="179" width="36.2" height="35.2" rx="2" fill="none" stroke="#111" stroke-width="1.35"/><path d="M 397.8 210.1 L 428.6 210.1" fill="none" stroke="#111" stroke-width="1.35" stroke-linecap="round" stroke-linejoin="round" /><path d="M 402.3 188.6 Q 400.6 197.5 406.6 204.3" fill="none" stroke="#111" stroke-width="1.0" stroke-linecap="round" stroke-linejoin="round" /><g transform="translate(458.0,184.2) scale(0.7800)"><path d="M -5.1 34.6 L -5.1 12 L -5.1 20.2 Q -5.1 21.2 -5.9 21.2 Q -6.7 21.2 -6.7 20.2 L -6.7 11 Q -6.7 7.6 -3.6 7.6 L 3.6 7.6 Q 6.7 7.6 6.7 11 L 6.7 20.2 Q 6.7 21.2 5.9 21.2 Q 5.1 21.2 5.1 20.2 L 5.1 12 L 5.1 34.6 Q 5.1 35 4.4 35 L 1.9 35 Q 1.4 35 1.4 34.6 L 1.4 22.3 L -1.4 22.3 L -1.4 34.6 Q -1.4 35 -1.9 35 L -4.4 35 Q -5.1 35 -5.1 34.6 Z" fill="none" stroke="#111" stroke-width="1.731" stroke-linejoin="round"/><circle cx="0" cy="3.5" r="3.0" fill="none" stroke="#111" stroke-width="1.731"/></g><g transform="translate(470.6,184.2) scale(0.7800)"><path d="M -5.1 34.6 L -5.1 12 L -5.1 20.2 Q -5.1 21.2 -5.9 21.2 Q -6.7 21.2 -6.7 20.2 L -6.7 11 Q -6.7 7.6 -3.6 7.6 L 3.6 7.6 Q 6.7 7.6 6.7 11 L 6.7 20.2 Q 6.7 21.2 5.9 21.2 Q 5.1 21.2 5.1 20.2 L 5.1 12 L 5.1 34.6 Q 5.1 35 4.4 35 L 1.9 35 Q 1.4 35 1.4 34.6 L 1.4 22.3 L -1.4 22.3 L -1.4 34.6 Q -1.4 35 -1.9 35 L -4.4 35 Q -5.1 35 -5.1 34.6 Z" fill="none" stroke="#111" stroke-width="1.731" stroke-linejoin="round"/><circle cx="0" cy="3.5" r="3.0" fill="none" stroke="#111" stroke-width="1.731"/></g><g transform="translate(502.4,184.2) scale(0.7800)"><path d="M -5.1 34.6 L -5.1 12 L -5.1 20.2 Q -5.1 21.2 -5.9 21.2 Q -6.7 21.2 -6.7 20.2 L -6.7 11 Q -6.7 7.6 -3.6 7.6 L 3.6 7.6 Q 6.7 7.6 6.7 11 L 6.7 20.2 Q 6.7 21.2 5.9 21.2 Q 5.1 21.2 5.1 20.2 L 5.1 12 L 5.1 34.6 Q 5.1 35 4.4 35 L 1.9 35 Q 1.4 35 1.4 34.6 L 1.4 22.3 L -1.4 22.3 L -1.4 34.6 Q -1.4 35 -1.9 35 L -4.4 35 Q -5.1 35 -5.1 34.6 Z" fill="none" stroke="#111" stroke-width="1.731" stroke-linejoin="round"/><circle cx="0" cy="3.5" r="3.0" fill="none" stroke="#111" stroke-width="1.731"/></g><path d="M 478.6 196.4 L 492.8 196.4 Q 491.5 201.8 485.6 201.8 Q 479.8 201.8 478.6 196.4 Z M 492.8 196.4 L 494.7 194" fill="#fff" stroke="#111" stroke-width="1.35" stroke-linecap="round" stroke-linejoin="round" /><path d="M 482.4 202 L 479.9 207.2 M 489.6 202 L 492.8 210.4" fill="none" stroke="#111" stroke-width="1.35" stroke-linecap="round" stroke-linejoin="round" /><circle cx="479.9" cy="209.4" r="2.1" fill="#fff" stroke="#111" stroke-width="1.35"/><line x1="450.8" y1="214.2" x2="509.3" y2="214.2" stroke="#111" stroke-width="1.5" stroke-linecap="round"/><path d="M 50.50 414.00 A 1.82 1.82 0 0 1 51.80 411.36 A 1.82 1.82 0 0 1 53.10 408.72 A 1.82 1.82 0 0 1 54.40 406.08 A 1.82 1.82 0 0 1 55.70 403.44 A 1.82 1.82 0 0 1 57.00 400.80 A 1.73 1.73 0 0 1 58.42 403.20 A 1.73 1.73 0 0 1 59.84 405.60 A 1.73 1.73 0 0 1 61.26 408.00 A 1.73 1.73 0 0 1 62.68 410.40 A 1.73 1.73 0 0 1 64.10 412.80 A 1.90 1.90 0 0 1 66.00 410.40 A 1.90 1.90 0 0 1 67.90 408.00 A 1.90 1.90 0 0 1 69.80 405.60 A 1.90 1.90 0 0 1 71.70 403.20 A 1.62 1.62 0 0 1 73.22 405.32 A 1.62 1.62 0 0 1 74.75 407.45 A 1.62 1.62 0 0 1 76.28 409.57 A 1.62 1.62 0 0 1 77.80 411.70 A 1.83 1.83 0 0 1 80.03 409.75 A 1.83 1.83 0 0 1 82.25 407.80 A 1.83 1.83 0 0 1 84.47 405.85 A 1.83 1.83 0 0 1 86.70 403.90 A 1.62 1.62 0 0 1 88.08 406.12 A 1.62 1.62 0 0 1 89.45 408.35 A 1.62 1.62 0 0 1 90.83 410.57 A 1.62 1.62 0 0 1 92.20 412.80 A 1.86 1.86 0 0 1 94.00 410.40 A 1.86 1.86 0 0 1 95.80 408.00 A 1.86 1.86 0 0 1 97.60 405.60 A 1.73 1.73 0 0 1 99.86 407.24 A 1.73 1.73 0 0 1 102.12 408.88 A 1.73 1.73 0 0 1 104.38 410.52 A 1.73 1.73 0 0 1 106.64 412.16 A 1.73 1.73 0 0 1 108.90 413.80 " fill="none" stroke="#111" stroke-width="1.2" stroke-linecap="round" stroke-linejoin="round" /><path d="M 51.2 418.9 L 85.7 418.9 L 85.7 423.6 L 92.2 423.6 L 92.2 418.9 L 109.6 418.9 M 85.7 423.6 L 85.7 425.4 M 92.2 423.6 L 92.2 425.4" fill="none" stroke="#111" stroke-width="1.35" stroke-linecap="round" stroke-linejoin="round" /><path d="M 60 428.8 Q 57 430 57.2 433.5 Q 57.8 437.6 62 438 L 77.8 438.4 Q 90 437.6 99 439 Q 102.6 440 103.2 436.5 Q 104 431 101.7 428.8 Q 99 428.6 95.6 431.6 Q 92 433.4 84 433.4 L 70 433.4 Q 64 433 60 428.8 Z" fill="#fff" stroke="#111" stroke-width="1.35" stroke-linecap="round" stroke-linejoin="round" /><circle cx="74.4" cy="424.8" r="1.9" fill="none" stroke="#111" stroke-width="1.35"/><path d="M 69.8 433.3 Q 70 428 73.5 428 Q 76 428.2 75.6 431 L 79.6 430.4 L 80.6 429.2 M 78.5 430.6 L 77.5 438" fill="none" stroke="#111" stroke-width="1.1" stroke-linecap="round" stroke-linejoin="round" /><path d="M 52.5 439.6 Q 56 438.2 60 438.6 M 87 439.2 Q 90.5 438.5 94.2 438.2" fill="none" stroke="#111" stroke-width="1.1" stroke-linecap="round" stroke-linejoin="round" /><path d="M 56.3 442.2 Q 60 440.8 64 442.4 Q 68 443.8 72 442 Q 76 440.6 80 442.4 Q 84.5 443.6 89.8 443.2" fill="none" stroke="#111" stroke-width="1.1" stroke-linecap="round" stroke-linejoin="round" /><circle cx="146.5" cy="407.3" r="5.5" fill="none" stroke="#111" stroke-width="1.35"/><path d="M 161 413.6 Q 159.8 411.2 161.8 409.5 Q 163 408.2 164.8 408.6 Q 166 404 170 404 Q 173.5 404.2 174.5 407 Q 177.5 406.2 179.2 408.6 Q 182 408 183.6 410 Q 187 409.6 187.3 412 Q 187.5 413.6 186 413.6 Z" fill="#fff" stroke="#111" stroke-width="1.35" stroke-linecap="round" stroke-linejoin="round" /><line x1="130.8" y1="420.3" x2="189.3" y2="420.3" stroke="#111" stroke-width="1.5" stroke-linecap="round"/><path d="M 139.4 426 Q 143.5 424.4 147.5 426 Q 151.5 427.6 155.6 426 Q 159.6 424.4 163.8 426 Q 167.8 427.6 172 426 Q 176.2 424.4 180.7 425.6" fill="none" stroke="#111" stroke-width="1.15" stroke-linecap="round" stroke-linejoin="round" /><path d="M 146.2 434.6 Q 149.5 433 153 434.8 Q 156.5 436.2 160 434.6 Q 163.4 433 167 434.8 Q 170 436 173.5 435" fill="none" stroke="#111" stroke-width="1.15" stroke-linecap="round" stroke-linejoin="round" /><path d="M 153.7 442.4 Q 156 441.2 158 442.8 Q 160.2 444 162.2 442.6 Q 164.2 441.4 166.4 442.4" fill="none" stroke="#111" stroke-width="1.15" stroke-linecap="round" stroke-linejoin="round" /><circle cx="215.3" cy="406.6" r="5.2" fill="#fff" stroke="#111" stroke-width="1.35"/><path d="M 219.60 434.30 A 3.51 3.51 0 0 1 214.00 433.50 A 3.42 3.42 0 0 1 210.20 429.50 A 3.50 3.50 0 0 1 211.50 424.00 A 3.42 3.42 0 0 1 211.20 418.50 A 3.98 3.98 0 0 1 214.50 413.00 A 3.97 3.97 0 0 1 219.50 409.00 A 3.91 3.91 0 0 1 225.80 408.60 A 3.99 3.99 0 0 1 230.50 413.00 A 4.19 4.19 0 0 1 233.60 419.00 A 4.34 4.34 0 0 1 233.80 426.00 A 3.98 3.98 0 0 1 231.50 432.00 A 4.61 4.61 0 0 1 224.50 434.50 " fill="#FFCC00" stroke="#111" stroke-width="1.35" stroke-linecap="round" stroke-linejoin="round" /><path d="M 219.8 443.3 L 219.8 430.5 L 217 429.2 M 222.8 443.3 L 222.8 430.5 L 226 429.2" fill="none" stroke="#111" stroke-width="1.35" stroke-linecap="round" stroke-linejoin="round" /><path d="M 238.40 423.00 A 3.40 3.40 0 0 1 233.00 422.00 A 3.19 3.19 0 0 1 231.80 417.00 A 3.75 3.75 0 0 1 232.60 411.00 A 3.29 3.29 0 0 1 235.40 406.50 A 3.28 3.28 0 0 1 240.00 403.90 A 3.36 3.36 0 0 1 245.00 406.00 A 3.55 3.55 0 0 1 247.80 411.00 A 3.47 3.47 0 0 1 248.80 416.50 A 3.42 3.42 0 0 1 249.30 422.00 A 4.59 4.59 0 0 1 242.00 423.20 " fill="#FFCC00" stroke="#111" stroke-width="1.35" stroke-linecap="round" stroke-linejoin="round" /><rect x="238.6" y="423" width="3" height="20.3" fill="#9a7b00"/><path d="M 238.5 443.3 L 238.5 423 M 241.6 443.3 L 241.6 423" fill="none" stroke="#111" stroke-width="1.35" stroke-linecap="round" stroke-linejoin="round" /><path d="M 255.60 438.60 A 5.02 5.02 0 0 1 247.50 438.50 A 3.46 3.46 0 0 1 244.20 434.00 A 3.29 3.29 0 0 1 246.00 429.00 A 3.62 3.62 0 0 1 249.00 424.00 A 4.01 4.01 0 0 1 251.40 418.00 A 4.12 4.12 0 0 1 252.80 411.50 A 3.56 3.56 0 0 1 257.50 408.20 A 3.22 3.22 0 0 1 261.50 411.50 A 3.77 3.77 0 0 1 262.50 417.50 A 3.75 3.75 0 0 1 265.00 423.00 A 4.04 4.04 0 0 1 268.50 428.50 A 3.65 3.65 0 0 1 270.60 434.00 A 3.06 3.06 0 0 1 268.00 438.20 A 4.36 4.36 0 0 1 261.00 438.80 " fill="#FFCC00" stroke="#111" stroke-width="1.35" stroke-linecap="round" stroke-linejoin="round" /><path d="M 255.6 443.3 L 255.6 438.6 M 261 443.3 L 261 438.6" fill="none" stroke="#111" stroke-width="1.35" stroke-linecap="round" stroke-linejoin="round" /><line x1="211.5" y1="443.5" x2="270.3" y2="443.5" stroke="#111" stroke-width="1.5" stroke-linecap="round"/><path d="M 299.2 418 L 307.2 411.5 L 314.4 415.2 L 313 417.8 L 307.6 416.4 L 303.5 419 Z" fill="#fff"/><path d="M 326 414.6 L 334.9 404 L 343.8 415.2 L 341 418.4 L 337.6 417 L 331.2 422.2 L 330.6 415.2 Z" fill="#fff"/><path d="M 291.2 424 L 307.2 410.7 L 320.9 417.6 M 312.3 429.9 L 334.9 403.2 L 348.9 420.6" fill="none" stroke="#111" stroke-width="1.35" stroke-linecap="round" stroke-linejoin="round" /><path d="M 299 417.9 L 303.5 419.2 L 307.6 416.4 L 313 417.8 L 314.4 415.2 M 326 414.8 L 330.5 415.2 L 331.1 422.2 L 337.6 417 L 341 418.4 L 343.8 415.2" fill="none" stroke="#111" stroke-width="1.1" stroke-linecap="round" stroke-linejoin="round" /><path d="M 291.2 428.6 Q 300 426.5 312.3 429.9 Q 320 433.5 325 436 Q 328.5 437.6 332.4 437.7" fill="none" stroke="#111" stroke-width="1.35" stroke-linecap="round" stroke-linejoin="round" /><path d="M 337.50 440.40 A 2.59 2.59 0 0 1 333.20 439.20 A 3.04 3.04 0 0 1 332.60 434.00 A 3.32 3.32 0 0 1 336.50 429.80 A 2.29 2.29 0 0 1 337.60 426.00 A 2.03 2.03 0 0 1 340.60 424.20 A 2.10 2.10 0 0 1 343.40 426.50 A 2.08 2.08 0 0 1 344.20 430.00 A 3.36 3.36 0 0 1 348.40 434.00 A 3.05 3.05 0 0 1 347.60 439.20 A 2.51 2.51 0 0 1 343.50 440.60 " fill="#FFCC00" stroke="#111" stroke-width="1.35" stroke-linecap="round" stroke-linejoin="round" /><path d="M 340.5 440.6 L 340.5 443.5" fill="none" stroke="#111" stroke-width="1.35" stroke-linecap="round" stroke-linejoin="round" /><rect x="376.6" y="402.9" width="13" height="40.6" rx="0" fill="none" stroke="#111" stroke-width="1.35"/><rect x="379.6" y="408.3" width="2.6" height="4.0" rx="0" fill="none" stroke="#111" stroke-width="0.95"/><rect x="384.4" y="408.3" width="2.4" height="4.0" rx="0" fill="none" stroke="#111" stroke-width="0.95"/><rect x="379.6" y="415.5" width="2.6" height="4.0" rx="0" fill="none" stroke="#111" stroke-width="0.95"/><rect x="384.4" y="415.5" width="2.4" height="4.0" rx="0" fill="none" stroke="#111" stroke-width="0.95"/><rect x="379.6" y="423" width="2.6" height="4.0" rx="0" fill="none" stroke="#111" stroke-width="0.95"/><rect x="384.4" y="423" width="2.4" height="4.0" rx="0" fill="none" stroke="#111" stroke-width="0.95"/><rect x="379.6" y="430.2" width="2.6" height="4.0" rx="0" fill="none" stroke="#111" stroke-width="0.95"/><rect x="384.4" y="430.2" width="2.4" height="4.0" rx="0" fill="none" stroke="#111" stroke-width="0.95"/><path d="M 389.6 415.5 L 395 415.5 L 399.2 420.3 L 399.2 443.5 M 389.6 420.3 L 399.2 420.3" fill="none" stroke="#111" stroke-width="1.35" stroke-linecap="round" stroke-linejoin="round" /><rect x="391.6" y="423.5" width="1.2" height="3.2" fill="#111"/><rect x="393.9" y="423.5" width="1.2" height="3.2" fill="#111"/><rect x="396.2" y="423.5" width="1.2" height="3.2" fill="#111"/><rect x="391.6" y="428.5" width="1.2" height="3.2" fill="#111"/><rect x="393.9" y="428.5" width="1.2" height="3.2" fill="#111"/><rect x="396.2" y="428.5" width="1.2" height="3.2" fill="#111"/><rect x="391.6" y="433.3" width="1.2" height="3.2" fill="#111"/><rect x="393.9" y="433.3" width="1.2" height="3.2" fill="#111"/><rect x="396.2" y="433.3" width="1.2" height="3.2" fill="#111"/><g transform="translate(427.9,424.7) scale(-1,1)"><g transform="translate(0,0) scale(1.0)"><path d="M 0.3 1.2 Q 0.3 0 1.5 0 L 17 0 L 21.8 3.8 Q 22.4 4.6 21.6 5.2 L 19.6 6.5 L 23.4 13.5 Q 24 15.8 22 15.8 L 1.5 15.8 Q 0.3 15.8 0.3 14.6 Z" fill="#fff" stroke="#111" stroke-width="1.350" stroke-linejoin="round"/><rect x="2.2" y="5.8" width="3.8" height="3.8" fill="none" stroke="#111" stroke-width="1.000"/><rect x="7.9" y="5.8" width="3.8" height="3.8" fill="none" stroke="#111" stroke-width="1.000"/><path d="M 14.3 6 L 18.6 6.5 L 21.2 11.8 L 14.3 9.8 Z" fill="none" stroke="#111" stroke-width="1.000" stroke-linejoin="round"/><circle cx="5" cy="16.3" r="2.4" fill="#fff" stroke="#111" stroke-width="1.350"/><circle cx="17.4" cy="16.3" r="2.4" fill="#fff" stroke="#111" stroke-width="1.350"/></g></g><line x1="370.8" y1="443.5" x2="429.3" y2="443.5" stroke="#111" stroke-width="1.5" stroke-linecap="round"/><rect x="452.9" y="402.9" width="12.9" height="40.6" rx="0" fill="none" stroke="#111" stroke-width="1.35"/><rect x="455.8" y="408.3" width="2.4" height="4.0" rx="0" fill="none" stroke="#111" stroke-width="0.95"/><rect x="460.3" y="408.3" width="2.4" height="4.0" rx="0" fill="none" stroke="#111" stroke-width="0.95"/><rect x="455.8" y="415.5" width="2.4" height="4.0" rx="0" fill="none" stroke="#111" stroke-width="0.95"/><rect x="460.3" y="415.5" width="2.4" height="4.0" rx="0" fill="none" stroke="#111" stroke-width="0.95"/><rect x="455.8" y="423" width="2.4" height="4.0" rx="0" fill="none" stroke="#111" stroke-width="0.95"/><rect x="460.3" y="423" width="2.4" height="4.0" rx="0" fill="none" stroke="#111" stroke-width="0.95"/><rect x="455.8" y="430.2" width="2.4" height="4.0" rx="0" fill="none" stroke="#111" stroke-width="0.95"/><rect x="460.3" y="430.2" width="2.4" height="4.0" rx="0" fill="none" stroke="#111" stroke-width="0.95"/><rect x="465.8" y="407" width="9.3" height="36.5" rx="0" fill="none" stroke="#111" stroke-width="1.35"/><rect x="467.6" y="410" width="1.1" height="3.0" fill="#111"/><rect x="469.8" y="410" width="1.1" height="3.0" fill="#111"/><rect x="472.0" y="410" width="1.1" height="3.0" fill="#111"/><rect x="467.6" y="415.2" width="1.1" height="3.0" fill="#111"/><rect x="469.8" y="415.2" width="1.1" height="3.0" fill="#111"/><rect x="472.0" y="415.2" width="1.1" height="3.0" fill="#111"/><rect x="467.6" y="420.4" width="1.1" height="3.0" fill="#111"/><rect x="469.8" y="420.4" width="1.1" height="3.0" fill="#111"/><rect x="472.0" y="420.4" width="1.1" height="3.0" fill="#111"/><rect x="475.1" y="402.9" width="22.5" height="40.6" rx="0" fill="none" stroke="#111" stroke-width="1.35"/><rect x="477.6" y="408.3" width="2.4" height="4.0" rx="0" fill="none" stroke="#111" stroke-width="0.95"/><rect x="482.3" y="408.3" width="2.4" height="4.0" rx="0" fill="none" stroke="#111" stroke-width="0.95"/><rect x="487.0" y="408.3" width="2.4" height="4.0" rx="0" fill="none" stroke="#111" stroke-width="0.95"/><rect x="491.7" y="408.3" width="2.4" height="4.0" rx="0" fill="none" stroke="#111" stroke-width="0.95"/><rect x="477.6" y="415.5" width="2.4" height="4.0" rx="0" fill="none" stroke="#111" stroke-width="0.95"/><rect x="482.3" y="415.5" width="2.4" height="4.0" rx="0" fill="none" stroke="#111" stroke-width="0.95"/><rect x="487.0" y="415.5" width="2.4" height="4.0" rx="0" fill="none" stroke="#111" stroke-width="0.95"/><rect x="491.7" y="415.5" width="2.4" height="4.0" rx="0" fill="none" stroke="#111" stroke-width="0.95"/><path d="M 497.6 408.3 L 503.1 408.3 L 506.9 412.4 L 506.9 443.5 M 497.6 412.4 L 506.9 412.4 L 506.9 443.5 L 497.6 443.5 Z" fill="none" stroke="#111" stroke-width="1.35" stroke-linecap="round" stroke-linejoin="round" /><rect x="499.6" y="416" width="5.4" height="2.2" fill="#8a6e00" stroke="#111" stroke-width="0.6"/><rect x="499.6" y="421" width="5.4" height="2.2" fill="#8a6e00" stroke="#111" stroke-width="0.6"/><rect x="499.6" y="426" width="5.4" height="2.2" fill="#8a6e00" stroke="#111" stroke-width="0.6"/><rect x="499.6" y="431" width="5.4" height="2.2" fill="#8a6e00" stroke="#111" stroke-width="0.6"/><rect x="499.6" y="436" width="5.4" height="2.2" fill="#8a6e00" stroke="#111" stroke-width="0.6"/><g transform="translate(492.2,424.7) scale(-1,1)"><g transform="translate(0,0) scale(1.0)"><path d="M 0.3 1.2 Q 0.3 0 1.5 0 L 17 0 L 21.8 3.8 Q 22.4 4.6 21.6 5.2 L 19.6 6.5 L 23.4 13.5 Q 24 15.8 22 15.8 L 1.5 15.8 Q 0.3 15.8 0.3 14.6 Z" fill="#fff" stroke="#111" stroke-width="1.350" stroke-linejoin="round"/><rect x="2.2" y="5.8" width="3.8" height="3.8" fill="none" stroke="#111" stroke-width="1.000"/><rect x="7.9" y="5.8" width="3.8" height="3.8" fill="none" stroke="#111" stroke-width="1.000"/><path d="M 14.3 6 L 18.6 6.5 L 21.2 11.8 L 14.3 9.8 Z" fill="none" stroke="#111" stroke-width="1.000" stroke-linejoin="round"/><circle cx="5" cy="16.3" r="2.4" fill="#fff" stroke="#111" stroke-width="1.350"/><circle cx="17.4" cy="16.3" r="2.4" fill="#fff" stroke="#111" stroke-width="1.350"/></g></g><line x1="450.8" y1="443.5" x2="509.3" y2="443.5" stroke="#111" stroke-width="1.5" stroke-linecap="round"/><circle cx="73.3" cy="624.9" r="2.5" fill="none" stroke="#111" stroke-width="1.35"/><path d="M 67.7 631.2 Q 68.3 627.8 73.3 627.6 Q 78.3 627.8 78.89999999999999 631.2" fill="none" stroke="#111" stroke-width="1.35" stroke-linecap="round" stroke-linejoin="round" /><circle cx="73.3" cy="633.9" r="2.5" fill="none" stroke="#111" stroke-width="1.35"/><path d="M 67.7 640.2 Q 68.3 636.8 73.3 636.6 Q 78.3 636.8 78.89999999999999 640.2" fill="none" stroke="#111" stroke-width="1.35" stroke-linecap="round" stroke-linejoin="round" /><circle cx="73.3" cy="642.9" r="2.6" fill="none" stroke="#111" stroke-width="1.35"/><path d="M 69.20 659.1 L 69.20 656.6 Q 67.70 656.4 67.70 655 L 67.70 649.5 Q 67.70 645.8 70.70 645.8 L 75.90 645.8 Q 78.90 645.8 78.90 649.5 L 78.90 655 Q 78.90 656.4 77.40 656.6 L 77.40 659.1 M 69.20 650 L 69.20 656.6 M 77.40 650 L 77.40 656.6" fill="none" stroke="#111" stroke-width="1.2" stroke-linecap="round" stroke-linejoin="round" /><circle cx="86.6" cy="624.9" r="2.5" fill="none" stroke="#111" stroke-width="1.35"/><path d="M 81.0 631.2 Q 81.6 627.8 86.6 627.6 Q 91.6 627.8 92.19999999999999 631.2" fill="none" stroke="#111" stroke-width="1.35" stroke-linecap="round" stroke-linejoin="round" /><circle cx="86.6" cy="633.9" r="2.5" fill="#fff" stroke="#111" stroke-width="1.35"/><path d="M 81.0 640.2 Q 81.6 636.8 86.6 636.6 Q 91.6 636.8 92.19999999999999 640.2" fill="none" stroke="#111" stroke-width="1.35" stroke-linecap="round" stroke-linejoin="round" /><circle cx="86.6" cy="642.9" r="2.6" fill="none" stroke="#111" stroke-width="1.35"/><path d="M 82.50 659.1 L 82.50 656.6 Q 81.00 656.4 81.00 655 L 81.00 649.5 Q 81.00 645.8 84.00 645.8 L 89.20 645.8 Q 92.20 645.8 92.20 649.5 L 92.20 655 Q 92.20 656.4 90.70 656.6 L 90.70 659.1 M 82.50 650 L 82.50 656.6 M 90.70 650 L 90.70 656.6" fill="none" stroke="#111" stroke-width="1.2" stroke-linecap="round" stroke-linejoin="round" /><circle cx="104.5" cy="624.9" r="2.5" fill="none" stroke="#111" stroke-width="1.35"/><path d="M 98.9 631.2 Q 99.5 627.8 104.5 627.6 Q 109.5 627.8 110.1 631.2" fill="none" stroke="#111" stroke-width="1.35" stroke-linecap="round" stroke-linejoin="round" /><circle cx="104.5" cy="633.9" r="2.5" fill="none" stroke="#111" stroke-width="1.35"/><path d="M 98.9 640.2 Q 99.5 636.8 104.5 636.6 Q 109.5 636.8 110.1 640.2" fill="none" stroke="#111" stroke-width="1.35" stroke-linecap="round" stroke-linejoin="round" /><circle cx="104.5" cy="642.9" r="2.6" fill="none" stroke="#111" stroke-width="1.35"/><path d="M 100.40 659.1 L 100.40 656.6 Q 98.90 656.4 98.90 655 L 98.90 649.5 Q 98.90 645.8 101.90 645.8 L 107.10 645.8 Q 110.10 645.8 110.10 649.5 L 110.10 655 Q 110.10 656.4 108.60 656.6 L 108.60 659.1 M 100.40 650 L 100.40 656.6 M 108.60 650 L 108.60 656.6" fill="none" stroke="#111" stroke-width="1.2" stroke-linecap="round" stroke-linejoin="round" /><circle cx="117.8" cy="624.9" r="2.5" fill="none" stroke="#111" stroke-width="1.35"/><path d="M 112.2 631.2 Q 112.8 627.8 117.8 627.6 Q 122.8 627.8 123.39999999999999 631.2" fill="none" stroke="#111" stroke-width="1.35" stroke-linecap="round" stroke-linejoin="round" /><circle cx="117.8" cy="633.9" r="2.5" fill="none" stroke="#111" stroke-width="1.35"/><path d="M 112.2 640.2 Q 112.8 636.8 117.8 636.6 Q 122.8 636.8 123.39999999999999 640.2" fill="none" stroke="#111" stroke-width="1.35" stroke-linecap="round" stroke-linejoin="round" /><circle cx="117.8" cy="642.9" r="2.6" fill="none" stroke="#111" stroke-width="1.35"/><path d="M 113.70 659.1 L 113.70 656.6 Q 112.20 656.4 112.20 655 L 112.20 649.5 Q 112.20 645.8 115.20 645.8 L 120.40 645.8 Q 123.40 645.8 123.40 649.5 L 123.40 655 Q 123.40 656.4 121.90 656.6 L 121.90 659.1 M 113.70 650 L 113.70 656.6 M 121.90 650 L 121.90 656.6" fill="none" stroke="#111" stroke-width="1.2" stroke-linecap="round" stroke-linejoin="round" /><line x1="66.3" y1="659.3" x2="124.8" y2="659.3" stroke="#111" stroke-width="1.5" stroke-linecap="round"/><g transform="translate(200.3,621.8) scale(0.9943)"><path d="M -5.1 34.6 L -5.1 12 L -5.1 20.2 Q -5.1 21.2 -5.9 21.2 Q -6.7 21.2 -6.7 20.2 L -6.7 11 Q -6.7 7.6 -3.6 7.6 L 3.6 7.6 Q 6.7 7.6 6.7 11 L 6.7 20.2 Q 6.7 21.2 5.9 21.2 Q 5.1 21.2 5.1 20.2 L 5.1 12 L 5.1 34.6 Q 5.1 35 4.4 35 L 1.9 35 Q 1.4 35 1.4 34.6 L 1.4 22.3 L -1.4 22.3 L -1.4 34.6 Q -1.4 35 -1.9 35 L -4.4 35 Q -5.1 35 -5.1 34.6 Z" fill="none" stroke="#111" stroke-width="1.358" stroke-linejoin="round"/><circle cx="0" cy="3.5" r="3.0" fill="#fff" stroke="#111" stroke-width="1.358"/></g><g transform="translate(240.5,621.8) scale(0.9943)"><path d="M -5.1 34.6 L -5.1 12 L -5.1 20.2 Q -5.1 21.2 -5.9 21.2 Q -6.7 21.2 -6.7 20.2 L -6.7 11 Q -6.7 7.6 -3.6 7.6 L 3.6 7.6 Q 6.7 7.6 6.7 11 L 6.7 20.2 Q 6.7 21.2 5.9 21.2 Q 5.1 21.2 5.1 20.2 L 5.1 12 L 5.1 34.6 Q 5.1 35 4.4 35 L 1.9 35 Q 1.4 35 1.4 34.6 L 1.4 22.3 L -1.4 22.3 L -1.4 34.6 Q -1.4 35 -1.9 35 L -4.4 35 Q -5.1 35 -5.1 34.6 Z" fill="none" stroke="#111" stroke-width="1.358" stroke-linejoin="round"/><circle cx="0" cy="3.5" r="3.0" fill="#fff" stroke="#111" stroke-width="1.358"/></g><path d="M 209 644.5 L 232 644.5 M 211.8 641.5 L 208.9 644.5 L 211.8 647.5 M 229.2 641.5 L 232.1 644.5 L 229.2 647.5" fill="none" stroke="#111" stroke-width="1.35" stroke-linecap="round" stroke-linejoin="round" /><line x1="191.3" y1="659.3" x2="249.9" y2="659.3" stroke="#111" stroke-width="1.5" stroke-linecap="round"/><circle cx="325.2" cy="627.7" r="2.9" fill="none" stroke="#111" stroke-width="1.35"/><path d="M 321.8 656 L 321.8 643.5 L 321.8 651 M 321.4 643 Q 319.5 643 319.5 641.5 L 319.5 634.5 Q 319.5 631.6 322.5 631.4 L 329 631.4 Q 334 632 338.5 629.2 Q 341.2 628.5 341.3 630.4 Q 341 632.2 338.8 633 Q 334.5 635.2 329.6 635.4 L 329.6 656.6 L 326.6 656.6 L 326.6 645 L 324.4 645 L 324.4 656.6 L 321.6 656.6 Z M 321.4 634.5 L 321.4 643" fill="none" stroke="#111" stroke-width="1.35" stroke-linecap="round" stroke-linejoin="round" /><path d="M 359.9 631.8 Q 360.5 637 365.5 640 L 370.6 641 Q 373 643.5 370.6 647 Q 367 649.5 358 649.2 L 348.2 655.5 Q 346 656 345.8 654 Q 346.5 652 349 650.5 L 356.3 645.5 L 365.6 644.6 L 367 642 Q 360 640.5 358.5 635 Q 357.8 631 359.9 631.8 Z" fill="#fff" stroke="#111" stroke-width="1.35" stroke-linejoin="round"/><circle cx="373.3" cy="634.3" r="2.7" fill="#fff" stroke="#111" stroke-width="1.35"/><path d="M 377.6 638.3 L 356.5 659 M 357 648.4 L 368.6 659" fill="none" stroke="#111" stroke-width="1.35" stroke-linecap="round" stroke-linejoin="round" /><line x1="313.1" y1="659.3" x2="371.7" y2="659.3" stroke="#111" stroke-width="1.5" stroke-linecap="round"/><circle cx="450.2" cy="628.6" r="3.8" fill="none" stroke="#111" stroke-width="1.35"/><path d="M 443.8 659 L 443.8 648.6 Q 442.3 648.4 442.3 646.5 L 442.3 637.5 Q 442.3 633.4 446.6 633.2 L 453.2 633.2 Q 455.8 633.8 457.4 636 L 460 638.5 L 464.6 634.8 Q 466.8 633.6 467.8 635.2 Q 468.6 636.7 466.8 638.2 L 460.2 644.4 L 456.4 640.8 L 456.4 659 M 444.3 639 L 444.3 648.5 M 448.2 659 L 448.2 652 L 452.3 652 L 452.3 659" fill="none" stroke="#111" stroke-width="1.35" stroke-linecap="round" stroke-linejoin="round" /><path d="M 484.3 617.8 L 500.5 644.8 L 468.8 644.8 Z" fill="#fff" stroke="#111" stroke-width="1.35" stroke-linecap="round" stroke-linejoin="round" /><path d="M 484.3 644.8 L 484.3 659" fill="none" stroke="#111" stroke-width="1.35" stroke-linecap="round" stroke-linejoin="round" /><circle cx="484.3" cy="635.8" r="3.3" fill="none" stroke="#111" stroke-width="1.1"/><line x1="487.35" y1="637.06" x2="488.92" y2="637.71" stroke="#111" stroke-width="1.1"/><circle cx="488.92" cy="637.71" r="0.75" fill="#111"/><line x1="485.56" y1="638.85" x2="486.21" y2="640.42" stroke="#111" stroke-width="1.1"/><circle cx="486.21" cy="640.42" r="0.75" fill="#111"/><line x1="483.04" y1="638.85" x2="482.39" y2="640.42" stroke="#111" stroke-width="1.1"/><circle cx="482.39" cy="640.42" r="0.75" fill="#111"/><line x1="481.25" y1="637.06" x2="479.68" y2="637.71" stroke="#111" stroke-width="1.1"/><circle cx="479.68" cy="637.71" r="0.75" fill="#111"/><line x1="481.25" y1="634.54" x2="479.68" y2="633.89" stroke="#111" stroke-width="1.1"/><circle cx="479.68" cy="633.89" r="0.75" fill="#111"/><line x1="483.04" y1="632.75" x2="482.39" y2="631.18" stroke="#111" stroke-width="1.1"/><circle cx="482.39" cy="631.18" r="0.75" fill="#111"/><line x1="485.56" y1="632.75" x2="486.21" y2="631.18" stroke="#111" stroke-width="1.1"/><circle cx="486.21" cy="631.18" r="0.75" fill="#111"/><line x1="487.35" y1="634.54" x2="488.92" y2="633.89" stroke="#111" stroke-width="1.1"/><circle cx="488.92" cy="633.89" r="0.75" fill="#111"/><circle cx="483.3" cy="634.8" r="0.6" fill="#111"/><circle cx="485.6" cy="636.6" r="0.6" fill="#111"/><line x1="439.1" y1="659.0" x2="497.7" y2="659.0" stroke="#111" stroke-width="1.5" stroke-linecap="round"/><rect x="576.3" y="620.0" width="47.2" height="31.1" rx="0" fill="none" stroke="#111" stroke-width="1.35"/><path d="M 576.3 645.2 L 623.5 645.2 M 595 651.1 L 595 659 M 605.2 651.1 L 605.2 659" fill="none" stroke="#111" stroke-width="1.35" stroke-linecap="round" stroke-linejoin="round" /><line x1="570.5" y1="659.3" x2="629.4" y2="659.3" stroke="#111" stroke-width="1.5" stroke-linecap="round"/><rect x="661.3" y="620.0" width="47.2" height="31.1" rx="0" fill="none" stroke="#111" stroke-width="1.35"/><path d="M 661.3 645.2 L 708.5 645.2 M 680 651.1 L 680 659 M 690.2 651.1 L 690.2 659" fill="none" stroke="#111" stroke-width="1.35" stroke-linecap="round" stroke-linejoin="round" /><line x1="655.5" y1="659.3" x2="714.4" y2="659.3" stroke="#111" stroke-width="1.5" stroke-linecap="round"/><path d="M 600.1 633.9 L 588.4 625.9 M 588.2 630 L 588.2 625.8 L 592.4 625.4 M 600.1 633.9 L 616.2 625.1 M 611.9 624.2 L 616.3 625.1 L 614.8 629.3 M 600.1 633.9 L 581.8 639 M 583.6 634.8 L 581.6 639 L 585.8 641.2 M 600.1 633.9 L 610.4 640.1 M 609.8 635.8 L 610.5 640.2 L 606.3 640.6" fill="none" stroke="#111" stroke-width="1.35" stroke-linecap="round" stroke-linejoin="round" /><circle cx="600.1" cy="633.9" r="2.6" fill="#fff" stroke="#111" stroke-width="1.35"/><path d="M 661.6 632.4 Q 672 630.5 682.9 635 Q 684.5 636 686 634 Q 688 632.6 689.6 634.6 Q 691 636 692.6 634 Q 694.5 632.6 696 634.6 Q 697.6 636 699.2 634 Q 701 632.6 702.6 634.6 Q 704.2 636 705.8 634 Q 707 632.8 708.2 634.2" fill="none" stroke="#111" stroke-width="1.35" stroke-linecap="round" stroke-linejoin="round" /><path d="M 673.5 626.2 Q 674 622.8 677.4 622.8 Q 680.6 623 681.2 626.2 Z M 676.3 632.2 L 677.4 626.2" fill="#FFCC00" stroke="#111" stroke-width="1.35" stroke-linecap="round" stroke-linejoin="round" /><circle cx="691.7" cy="625.8" r="2.3" fill="#fff" stroke="#111" stroke-width="1.35"/><path d="M 671.6 638.3 L 698.6 638.3 M 671.6 640.5 L 698.6 640.5 M 671.6 642.7 L 698.6 642.7" fill="none" stroke="#111" stroke-width="1.0" stroke-linecap="round" stroke-linejoin="round" /><circle cx="761.0" cy="622.2" r="3.4" fill="none" stroke="#111" stroke-width="1.35"/><circle cx="778.9" cy="622.2" r="3.4" fill="none" stroke="#111" stroke-width="1.35"/><path d="M 763.2 636.6 Q 759 634.8 759 632.1 Q 759.2 627.4 770.1 627.3 Q 781 627.4 781.2 632.1 Q 781.2 634.8 777 636.6" fill="none" stroke="#111" stroke-width="1.35" stroke-linecap="round" stroke-linejoin="round" /><g transform="translate(751.2,628.5) scale(0.8800)"><path d="M -5.1 34.6 L -5.1 12 L -5.1 20.2 Q -5.1 21.2 -5.9 21.2 Q -6.7 21.2 -6.7 20.2 L -6.7 11 Q -6.7 7.6 -3.6 7.6 L 3.6 7.6 Q 6.7 7.6 6.7 11 L 6.7 20.2 Q 6.7 21.2 5.9 21.2 Q 5.1 21.2 5.1 20.2 L 5.1 12 L 5.1 34.6 Q 5.1 35 4.4 35 L 1.9 35 Q 1.4 35 1.4 34.6 L 1.4 22.3 L -1.4 22.3 L -1.4 34.6 Q -1.4 35 -1.9 35 L -4.4 35 Q -5.1 35 -5.1 34.6 Z" fill="none" stroke="#111" stroke-width="1.534" stroke-linejoin="round"/><circle cx="0" cy="3.5" r="3.0" fill="none" stroke="#111" stroke-width="1.534"/></g><g transform="translate(788.8,628.5) scale(0.8800)"><path d="M -5.1 34.6 L -5.1 12 L -5.1 20.2 Q -5.1 21.2 -5.9 21.2 Q -6.7 21.2 -6.7 20.2 L -6.7 11 Q -6.7 7.6 -3.6 7.6 L 3.6 7.6 Q 6.7 7.6 6.7 11 L 6.7 20.2 Q 6.7 21.2 5.9 21.2 Q 5.1 21.2 5.1 20.2 L 5.1 12 L 5.1 34.6 Q 5.1 35 4.4 35 L 1.9 35 Q 1.4 35 1.4 34.6 L 1.4 22.3 L -1.4 22.3 L -1.4 34.6 Q -1.4 35 -1.9 35 L -4.4 35 Q -5.1 35 -5.1 34.6 Z" fill="none" stroke="#111" stroke-width="1.534" stroke-linejoin="round"/><circle cx="0" cy="3.5" r="3.0" fill="none" stroke="#111" stroke-width="1.534"/></g><g transform="translate(770,634.2) scale(0.95)"><path d="M -5.1 26 L -5.1 12 L -5.1 20.2 Q -5.1 21.2 -5.9 21.2 Q -6.7 21.2 -6.7 20.2 L -6.7 11 Q -6.7 7.6 -3.6 7.6 L 3.6 7.6 Q 6.7 7.6 6.7 11 L 6.7 20.2 Q 6.7 21.2 5.9 21.2 Q 5.1 21.2 5.1 20.2 L 5.1 12 L 5.1 26 Z" fill="#fff" stroke="#111" stroke-width="1.25" stroke-linejoin="round"/><circle cx="0" cy="3.6" r="3.3" fill="#fff" stroke="#111" stroke-width="1.25"/></g><line x1="740.5" y1="659.3" x2="799.4" y2="659.3" stroke="#111" stroke-width="1.5" stroke-linecap="round"/><path d="M 844.2 645.5 L 844.2 620.5 Q 844.2 618.5 846.2 618.5 L 857.9 618.5 Q 859.9 618.5 859.9 620.5 L 859.9 648 M 844.2 623.3 L 859.9 623.3 M 844.2 638.3 L 859.9 638.3 M 850.3 621.2 L 852.8 621.2" fill="none" stroke="#111" stroke-width="1.35" stroke-linecap="round" stroke-linejoin="round" /><path d="M 846.8 630 Q 848 626.6 850.6 626.6 Q 853.6 626.8 854.6 630.5 Z" fill="#fff" stroke="#111" stroke-width="1.0" stroke-linecap="round" stroke-linejoin="round" /><path d="M 850.2 629.8 L 849.3 635.4" fill="none" stroke="#111" stroke-width="1.0" stroke-linecap="round" stroke-linejoin="round" /><path d="M 845 638 L 845 635.8 L 853 636.4 Z" fill="#fff"/><path d="M 844.2 634.8 Q 841 634.8 841 637.6 Q 841 639.8 844.2 640 M 844.2 640.6 Q 841 640.6 841 643.4 Q 841 646 844.2 646 Q 844.2 647.6 846.2 647.6 L 850.6 647.6" fill="none" stroke="#111" stroke-width="1.35" stroke-linecap="round" stroke-linejoin="round" /><path d="M 861 633.5 L 866.8 643 L 866.8 659.1 M 855.1 659.1 Q 852.8 654 853 651.8 L 849.5 644.6 Q 848.7 641.5 851.2 640.8 Q 853.3 640.2 854.6 642.3 L 858.8 649.6" fill="none" stroke="#111" stroke-width="1.35" stroke-linecap="round" stroke-linejoin="round" /><line x1="825.5" y1="659.3" x2="884.4" y2="659.3" stroke="#111" stroke-width="1.5" stroke-linecap="round"/><path d="M 917.4 618.9 L 963.5 618.9 L 967.6 624.2 Q 968 628.6 962.2 628.6 Q 958.5 628.6 956.7 624.6 Q 954.8 628.6 951.5 628.6 Q 948 628.6 946 624.6 Q 944.2 628.6 940.5 628.6 Q 937 628.6 935.2 624.6 Q 933.4 628.6 929.8 628.6 Q 926.2 628.6 924.4 624.6 Q 922.6 628.6 918.2 628.6 Q 912.4 628.6 912.7 624.2 Z" fill="#fff" stroke="#111" stroke-width="1.35" stroke-linejoin="round"/><path d="M 915.6 628.6 L 915.6 659.3 M 965 628.6 L 965 659.3" fill="none" stroke="#111" stroke-width="1.35" stroke-linecap="round" stroke-linejoin="round" /><circle cx="928.1" cy="635.7" r="3.6" fill="none" stroke="#111" stroke-width="1.35"/><path d="M 922.4 659.1 L 922.4 656.6 Q 920.4 656.4 920.4 654.2 L 920.4 645.2 Q 920.4 640.9 924.8 640.9 L 931.6 640.9 Q 936.1 640.9 936.1 645.2 L 936.1 654.2 Q 936.1 656.4 934.2 656.6 L 934.2 659.1 M 924.3 646.4 L 924.3 656.6 M 932.1 646.4 L 932.1 656.6" fill="none" stroke="#111" stroke-width="1.35" stroke-linecap="round" stroke-linejoin="round" /><path d="M 937.2 637 Q 939 638.4 942 638.2 L 958.5 634.8 Q 961.2 634.6 960.8 636 Q 960 637.2 957.5 637.8 L 939 641.5 M 946.5 640.2 L 945.8 645.2 L 951.8 640.1" fill="none" stroke="#111" stroke-width="1.1" stroke-linecap="round" stroke-linejoin="round" /><line x1="910.5" y1="659.3" x2="969.4" y2="659.3" stroke="#111" stroke-width="1.5" stroke-linecap="round"/></svg>
<svg width="1024" height="820" viewBox="0 0 1024 820"><path fill="#0a0a0a" fill-rule="evenodd" d="M 884.4 789.5 L 891.7 757 L 902.8 757 L 909 789.5 L 901.4 789.5 L 900.2 783.1 L 892 783.1 L 890.8 789.5 Z M 896.4 764.1 L 899 777.2 L 893.2 777.2 Z M 911.3 757 L 922 757 C 930 757 934.8 763 934.8 773.2 C 934.8 783.5 930 789.5 922 789.5 L 911.3 789.5 Z M 919 762.9 L 920.5 762.9 C 924.5 762.9 926 767 926 773.4 C 926 780 924.5 784 920.5 784 L 919 784 Z M 935 789.5 L 942.3 757 L 952.8 757 L 959.6 789.5 L 952 789.5 L 950.5 783.1 L 942.6 783.1 L 941.4 789.5 Z M 946.7 764.1 L 949.3 777.2 L 943.8 777.2 Z M 983.9 767.6 C 983.5 760.5 979 756.4 972.8 756.4 C 964.5 756.4 960.2 763.5 960.2 773.3 C 960.2 783 964.5 790.1 972.8 790.1 C 979.5 790.1 983.8 785.5 983.9 778.1 L 976.3 778.1 C 976.2 782 975 784 972.8 784 C 970 784 968.7 780 968.7 773.3 C 968.7 766.5 970 762.3 972.8 762.3 C 975 762.3 976.2 764.5 976.3 767.6 Z"/></svg>
</body></html>
